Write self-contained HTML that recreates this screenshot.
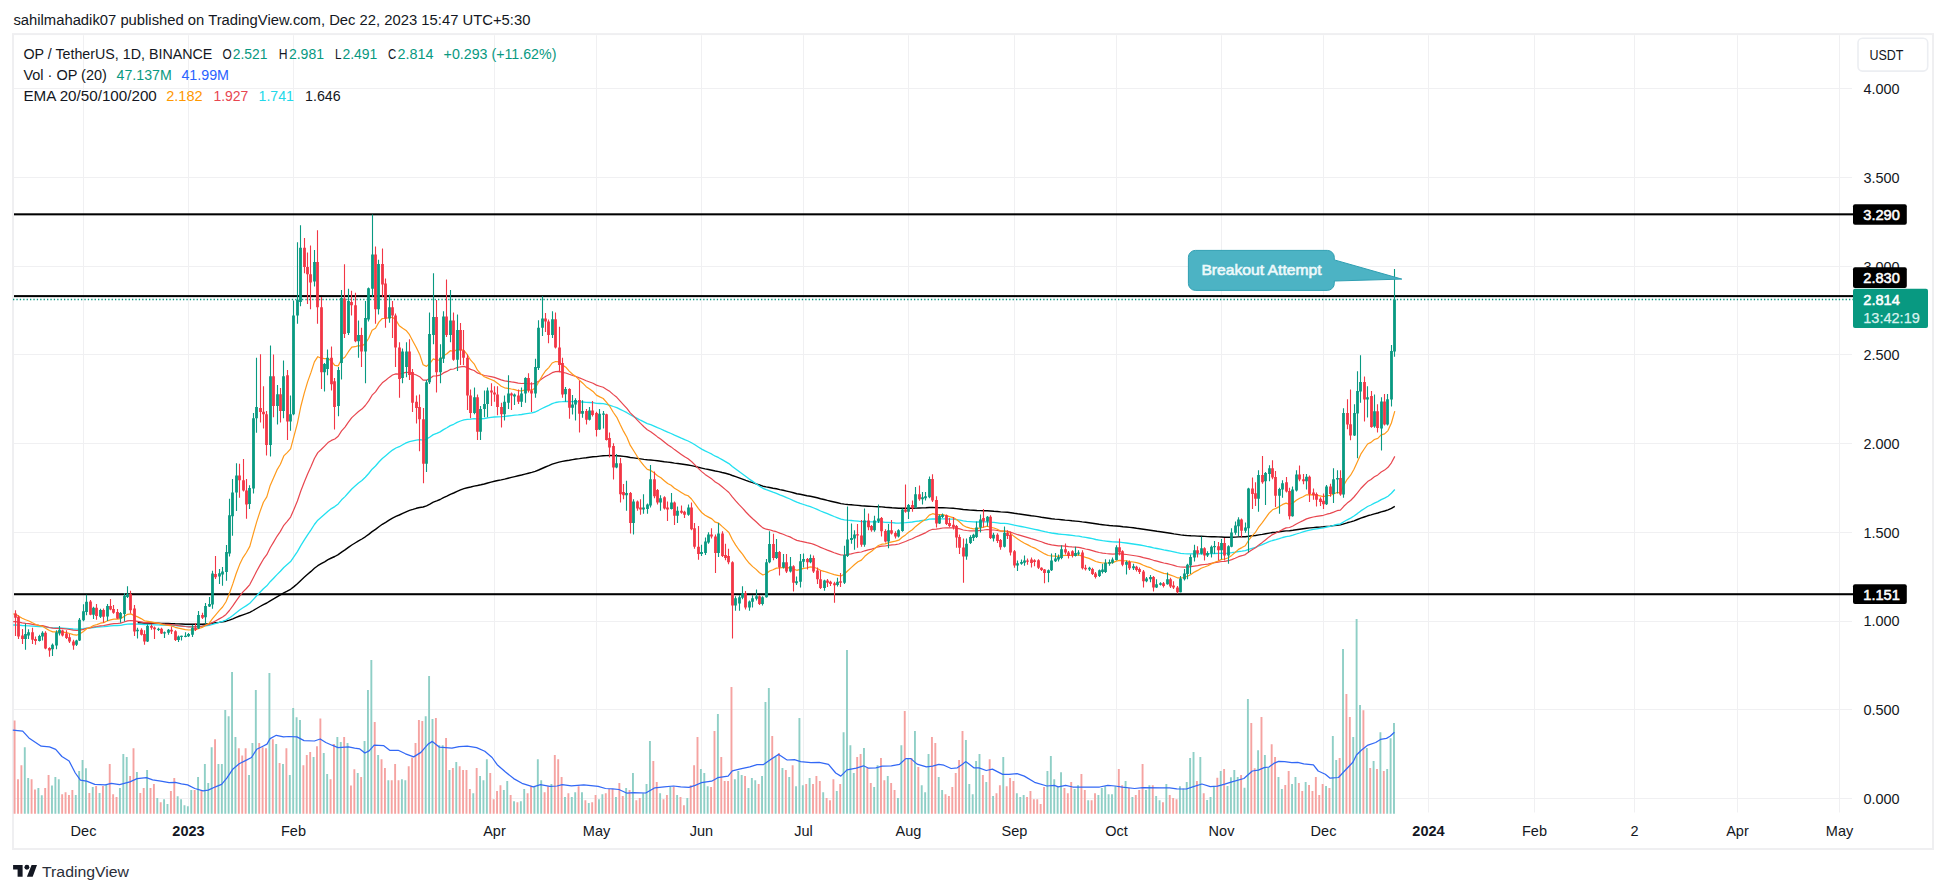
<!DOCTYPE html>
<html><head><meta charset="utf-8"><title>OP / TetherUS chart</title><style>html,body{margin:0;padding:0;background:#fff;overflow:hidden}svg{display:block}</style></head><body>
<svg width="1946" height="893" viewBox="0 0 1946 893" font-family='"Liberation Sans", sans-serif'>
<rect width="1946" height="893" fill="#ffffff"/>
<rect x="13" y="34.1" width="1920" height="814.9" fill="none" stroke="#efeff1" stroke-width="2"/>
<path d="M83.5 35.2V812.5 M188.5 35.2V812.5 M293.5 35.2V812.5 M494.5 35.2V812.5 M596.5 35.2V812.5 M701.5 35.2V812.5 M803.5 35.2V812.5 M908.5 35.2V812.5 M1014.5 35.2V812.5 M1116.5 35.2V812.5 M1221.5 35.2V812.5 M1323.5 35.2V812.5 M1428.5 35.2V812.5 M1534.5 35.2V812.5 M1634.5 35.2V812.5 M1737.5 35.2V812.5 M1839.5 35.2V812.5 M14 798.5H1852 M14 709.5H1852 M14 621.5H1852 M14 532.5H1852 M14 443.5H1852 M14 354.5H1852 M14 266.5H1852 M14 177.5H1852 M14 88.5H1852" stroke="#f0f0f2" stroke-width="1" fill="none"/>
<path d="M23.84 747.2h1.9V813.8h-1.9zM27.24 778.1h1.9V813.8h-1.9zM37.43 788.0h1.9V813.8h-1.9zM40.83 795.3h1.9V813.8h-1.9zM51.02 785.4h1.9V813.8h-1.9zM54.42 777.1h1.9V813.8h-1.9zM57.82 779.2h1.9V813.8h-1.9zM74.81 795.1h1.9V813.8h-1.9zM78.20 770.9h1.9V813.8h-1.9zM81.60 760.0h1.9V813.8h-1.9zM85.00 768.2h1.9V813.8h-1.9zM91.79 787.0h1.9V813.8h-1.9zM98.59 793.0h1.9V813.8h-1.9zM105.38 784.3h1.9V813.8h-1.9zM118.97 788.0h1.9V813.8h-1.9zM122.37 754.0h1.9V813.8h-1.9zM125.77 757.1h1.9V813.8h-1.9zM135.96 772.0h1.9V813.8h-1.9zM146.15 770.1h1.9V813.8h-1.9zM156.34 798.1h1.9V813.8h-1.9zM163.14 799.2h1.9V813.8h-1.9zM166.54 804.1h1.9V813.8h-1.9zM176.73 796.3h1.9V813.8h-1.9zM180.13 799.2h1.9V813.8h-1.9zM183.53 805.2h1.9V813.8h-1.9zM186.92 806.2h1.9V813.8h-1.9zM190.32 790.1h1.9V813.8h-1.9zM197.12 777.1h1.9V813.8h-1.9zM203.91 764.1h1.9V813.8h-1.9zM207.31 783.1h1.9V813.8h-1.9zM210.71 747.2h1.9V813.8h-1.9zM217.50 764.1h1.9V813.8h-1.9zM220.90 764.1h1.9V813.8h-1.9zM224.30 710.1h1.9V813.8h-1.9zM227.69 716.3h1.9V813.8h-1.9zM231.09 672.0h1.9V813.8h-1.9zM234.49 736.9h1.9V813.8h-1.9zM248.08 775.1h1.9V813.8h-1.9zM251.47 743.1h1.9V813.8h-1.9zM254.87 690.1h1.9V813.8h-1.9zM268.46 673.0h1.9V813.8h-1.9zM275.26 744.1h1.9V813.8h-1.9zM282.05 764.1h1.9V813.8h-1.9zM288.85 775.1h1.9V813.8h-1.9zM292.24 708.0h1.9V813.8h-1.9zM295.64 717.3h1.9V813.8h-1.9zM299.04 720.0h1.9V813.8h-1.9zM312.63 757.1h1.9V813.8h-1.9zM322.82 753.0h1.9V813.8h-1.9zM326.22 774.0h1.9V813.8h-1.9zM336.41 736.9h1.9V813.8h-1.9zM339.81 742.1h1.9V813.8h-1.9zM346.60 743.1h1.9V813.8h-1.9zM356.80 773.0h1.9V813.8h-1.9zM363.59 741.0h1.9V813.8h-1.9zM366.99 690.1h1.9V813.8h-1.9zM370.39 660.0h1.9V813.8h-1.9zM377.18 755.1h1.9V813.8h-1.9zM387.38 780.2h1.9V813.8h-1.9zM400.96 779.2h1.9V813.8h-1.9zM404.36 780.2h1.9V813.8h-1.9zM424.75 716.3h1.9V813.8h-1.9zM428.14 676.1h1.9V813.8h-1.9zM431.54 719.0h1.9V813.8h-1.9zM438.34 745.2h1.9V813.8h-1.9zM441.73 745.2h1.9V813.8h-1.9zM448.53 770.1h1.9V813.8h-1.9zM455.32 762.1h1.9V813.8h-1.9zM472.31 793.2h1.9V813.8h-1.9zM479.11 776.1h1.9V813.8h-1.9zM482.50 780.2h1.9V813.8h-1.9zM485.90 759.2h1.9V813.8h-1.9zM502.89 790.1h1.9V813.8h-1.9zM506.29 781.0h1.9V813.8h-1.9zM513.08 801.2h1.9V813.8h-1.9zM519.88 801.2h1.9V813.8h-1.9zM523.27 789.1h1.9V813.8h-1.9zM533.47 786.2h1.9V813.8h-1.9zM536.87 759.2h1.9V813.8h-1.9zM540.26 780.2h1.9V813.8h-1.9zM550.45 784.1h1.9V813.8h-1.9zM564.04 797.1h1.9V813.8h-1.9zM570.84 797.1h1.9V813.8h-1.9zM574.24 792.2h1.9V813.8h-1.9zM581.03 792.2h1.9V813.8h-1.9zM587.83 803.1h1.9V813.8h-1.9zM598.02 799.2h1.9V813.8h-1.9zM601.42 794.2h1.9V813.8h-1.9zM615.01 797.1h1.9V813.8h-1.9zM625.20 788.0h1.9V813.8h-1.9zM632.00 773.0h1.9V813.8h-1.9zM642.19 793.2h1.9V813.8h-1.9zM645.58 784.1h1.9V813.8h-1.9zM648.98 741.0h1.9V813.8h-1.9zM659.17 793.2h1.9V813.8h-1.9zM669.37 787.0h1.9V813.8h-1.9zM676.16 795.1h1.9V813.8h-1.9zM686.36 798.1h1.9V813.8h-1.9zM699.94 769.1h1.9V813.8h-1.9zM703.34 773.0h1.9V813.8h-1.9zM706.74 786.2h1.9V813.8h-1.9zM716.93 714.0h1.9V813.8h-1.9zM733.92 779.2h1.9V813.8h-1.9zM737.32 771.1h1.9V813.8h-1.9zM740.71 775.1h1.9V813.8h-1.9zM747.51 788.0h1.9V813.8h-1.9zM750.91 778.1h1.9V813.8h-1.9zM754.30 780.2h1.9V813.8h-1.9zM761.10 776.1h1.9V813.8h-1.9zM764.50 702.1h1.9V813.8h-1.9zM767.89 688.0h1.9V813.8h-1.9zM774.69 757.1h1.9V813.8h-1.9zM781.49 768.0h1.9V813.8h-1.9zM788.28 777.1h1.9V813.8h-1.9zM795.07 786.2h1.9V813.8h-1.9zM798.47 717.9h1.9V813.8h-1.9zM801.87 785.2h1.9V813.8h-1.9zM808.66 778.1h1.9V813.8h-1.9zM822.25 792.2h1.9V813.8h-1.9zM835.84 791.1h1.9V813.8h-1.9zM842.64 732.2h1.9V813.8h-1.9zM846.04 649.9h1.9V813.8h-1.9zM849.43 745.2h1.9V813.8h-1.9zM852.83 773.0h1.9V813.8h-1.9zM863.02 748.0h1.9V813.8h-1.9zM873.22 787.0h1.9V813.8h-1.9zM876.62 765.2h1.9V813.8h-1.9zM886.81 776.1h1.9V813.8h-1.9zM897.00 798.1h1.9V813.8h-1.9zM900.40 745.2h1.9V813.8h-1.9zM907.19 758.1h1.9V813.8h-1.9zM913.99 731.1h1.9V813.8h-1.9zM920.78 785.2h1.9V813.8h-1.9zM924.18 792.2h1.9V813.8h-1.9zM927.58 754.0h1.9V813.8h-1.9zM937.77 777.1h1.9V813.8h-1.9zM941.17 790.1h1.9V813.8h-1.9zM964.95 740.0h1.9V813.8h-1.9zM968.35 784.1h1.9V813.8h-1.9zM971.75 794.2h1.9V813.8h-1.9zM975.14 761.0h1.9V813.8h-1.9zM978.54 754.0h1.9V813.8h-1.9zM985.33 782.1h1.9V813.8h-1.9zM992.13 796.1h1.9V813.8h-1.9zM1002.32 757.1h1.9V813.8h-1.9zM1015.91 793.2h1.9V813.8h-1.9zM1019.31 797.1h1.9V813.8h-1.9zM1022.71 795.1h1.9V813.8h-1.9zM1046.49 771.1h1.9V813.8h-1.9zM1049.89 756.1h1.9V813.8h-1.9zM1053.29 779.2h1.9V813.8h-1.9zM1056.68 786.2h1.9V813.8h-1.9zM1060.08 772.2h1.9V813.8h-1.9zM1073.67 789.1h1.9V813.8h-1.9zM1077.07 785.2h1.9V813.8h-1.9zM1087.26 800.2h1.9V813.8h-1.9zM1097.45 795.1h1.9V813.8h-1.9zM1100.85 788.0h1.9V813.8h-1.9zM1104.25 786.2h1.9V813.8h-1.9zM1107.64 794.2h1.9V813.8h-1.9zM1111.04 794.2h1.9V813.8h-1.9zM1114.44 786.2h1.9V813.8h-1.9zM1124.63 781.0h1.9V813.8h-1.9zM1131.43 797.1h1.9V813.8h-1.9zM1145.02 790.1h1.9V813.8h-1.9zM1148.42 785.2h1.9V813.8h-1.9zM1155.21 796.1h1.9V813.8h-1.9zM1158.61 800.2h1.9V813.8h-1.9zM1165.40 784.1h1.9V813.8h-1.9zM1178.99 786.2h1.9V813.8h-1.9zM1182.39 788.5h1.9V813.8h-1.9zM1185.79 782.1h1.9V813.8h-1.9zM1189.19 758.1h1.9V813.8h-1.9zM1192.58 752.1h1.9V813.8h-1.9zM1199.38 756.9h1.9V813.8h-1.9zM1206.17 800.0h1.9V813.8h-1.9zM1209.57 796.9h1.9V813.8h-1.9zM1212.97 786.9h1.9V813.8h-1.9zM1219.76 771.0h1.9V813.8h-1.9zM1226.56 786.1h1.9V813.8h-1.9zM1229.96 777.3h1.9V813.8h-1.9zM1233.35 770.1h1.9V813.8h-1.9zM1236.75 777.0h1.9V813.8h-1.9zM1243.55 787.8h1.9V813.8h-1.9zM1246.94 699.1h1.9V813.8h-1.9zM1257.13 750.2h1.9V813.8h-1.9zM1263.93 755.0h1.9V813.8h-1.9zM1267.33 767.0h1.9V813.8h-1.9zM1277.52 777.0h1.9V813.8h-1.9zM1280.92 789.0h1.9V813.8h-1.9zM1291.11 784.0h1.9V813.8h-1.9zM1294.51 777.0h1.9V813.8h-1.9zM1304.70 782.1h1.9V813.8h-1.9zM1325.09 786.1h1.9V813.8h-1.9zM1331.88 736.0h1.9V813.8h-1.9zM1335.28 760.0h1.9V813.8h-1.9zM1342.07 649.1h1.9V813.8h-1.9zM1352.27 737.0h1.9V813.8h-1.9zM1355.66 619.1h1.9V813.8h-1.9zM1359.06 705.1h1.9V813.8h-1.9zM1365.86 748.0h1.9V813.8h-1.9zM1372.65 761.0h1.9V813.8h-1.9zM1379.45 732.2h1.9V813.8h-1.9zM1386.24 768.9h1.9V813.8h-1.9zM1389.64 738.2h1.9V813.8h-1.9zM1393.04 723.1h1.9V813.8h-1.9z" fill="#8fcfc6"/>
<path d="M13.65 720.4h1.9V813.8h-1.9zM17.05 779.2h1.9V813.8h-1.9zM20.45 765.2h1.9V813.8h-1.9zM30.64 779.2h1.9V813.8h-1.9zM34.03 789.5h1.9V813.8h-1.9zM44.23 788.0h1.9V813.8h-1.9zM47.62 775.1h1.9V813.8h-1.9zM61.21 794.2h1.9V813.8h-1.9zM64.61 792.2h1.9V813.8h-1.9zM68.01 795.1h1.9V813.8h-1.9zM71.41 790.1h1.9V813.8h-1.9zM88.40 793.0h1.9V813.8h-1.9zM95.19 786.0h1.9V813.8h-1.9zM101.98 786.0h1.9V813.8h-1.9zM108.78 764.1h1.9V813.8h-1.9zM112.18 794.2h1.9V813.8h-1.9zM115.58 797.1h1.9V813.8h-1.9zM129.16 776.1h1.9V813.8h-1.9zM132.56 748.2h1.9V813.8h-1.9zM139.36 793.0h1.9V813.8h-1.9zM142.75 788.0h1.9V813.8h-1.9zM149.55 788.0h1.9V813.8h-1.9zM152.95 783.9h1.9V813.8h-1.9zM159.74 802.3h1.9V813.8h-1.9zM169.94 791.1h1.9V813.8h-1.9zM173.33 778.1h1.9V813.8h-1.9zM193.72 790.1h1.9V813.8h-1.9zM200.51 790.1h1.9V813.8h-1.9zM214.10 739.2h1.9V813.8h-1.9zM237.88 748.2h1.9V813.8h-1.9zM241.28 755.5h1.9V813.8h-1.9zM244.68 748.2h1.9V813.8h-1.9zM258.27 743.1h1.9V813.8h-1.9zM261.67 747.2h1.9V813.8h-1.9zM265.06 748.2h1.9V813.8h-1.9zM271.86 739.2h1.9V813.8h-1.9zM278.65 763.1h1.9V813.8h-1.9zM285.45 748.2h1.9V813.8h-1.9zM302.44 765.2h1.9V813.8h-1.9zM305.83 755.1h1.9V813.8h-1.9zM309.23 752.0h1.9V813.8h-1.9zM316.03 746.2h1.9V813.8h-1.9zM319.42 718.4h1.9V813.8h-1.9zM329.62 779.2h1.9V813.8h-1.9zM333.01 744.1h1.9V813.8h-1.9zM343.21 736.9h1.9V813.8h-1.9zM350.00 785.4h1.9V813.8h-1.9zM353.40 769.3h1.9V813.8h-1.9zM360.19 777.1h1.9V813.8h-1.9zM373.78 722.1h1.9V813.8h-1.9zM380.58 759.2h1.9V813.8h-1.9zM383.98 768.0h1.9V813.8h-1.9zM390.77 780.2h1.9V813.8h-1.9zM394.17 764.1h1.9V813.8h-1.9zM397.57 780.2h1.9V813.8h-1.9zM407.76 766.2h1.9V813.8h-1.9zM411.16 757.5h1.9V813.8h-1.9zM414.55 743.1h1.9V813.8h-1.9zM417.95 720.0h1.9V813.8h-1.9zM421.35 721.0h1.9V813.8h-1.9zM434.94 717.9h1.9V813.8h-1.9zM445.13 738.1h1.9V813.8h-1.9zM451.93 768.0h1.9V813.8h-1.9zM458.72 766.2h1.9V813.8h-1.9zM462.12 770.1h1.9V813.8h-1.9zM465.52 770.1h1.9V813.8h-1.9zM468.91 789.1h1.9V813.8h-1.9zM475.71 768.0h1.9V813.8h-1.9zM489.30 773.0h1.9V813.8h-1.9zM492.70 799.2h1.9V813.8h-1.9zM496.09 791.1h1.9V813.8h-1.9zM499.49 785.2h1.9V813.8h-1.9zM509.68 795.1h1.9V813.8h-1.9zM516.48 802.3h1.9V813.8h-1.9zM526.67 793.2h1.9V813.8h-1.9zM530.07 786.2h1.9V813.8h-1.9zM543.66 792.2h1.9V813.8h-1.9zM547.06 786.2h1.9V813.8h-1.9zM553.85 755.1h1.9V813.8h-1.9zM557.25 759.2h1.9V813.8h-1.9zM560.65 777.1h1.9V813.8h-1.9zM567.44 793.2h1.9V813.8h-1.9zM577.63 786.2h1.9V813.8h-1.9zM584.43 800.2h1.9V813.8h-1.9zM591.23 802.3h1.9V813.8h-1.9zM594.62 795.1h1.9V813.8h-1.9zM604.81 793.2h1.9V813.8h-1.9zM608.21 789.1h1.9V813.8h-1.9zM611.61 789.1h1.9V813.8h-1.9zM618.40 783.1h1.9V813.8h-1.9zM621.80 796.1h1.9V813.8h-1.9zM628.60 790.1h1.9V813.8h-1.9zM635.39 800.2h1.9V813.8h-1.9zM638.79 798.1h1.9V813.8h-1.9zM652.38 761.0h1.9V813.8h-1.9zM655.78 782.1h1.9V813.8h-1.9zM662.57 799.2h1.9V813.8h-1.9zM665.97 795.1h1.9V813.8h-1.9zM672.76 787.0h1.9V813.8h-1.9zM679.56 797.1h1.9V813.8h-1.9zM682.96 805.2h1.9V813.8h-1.9zM689.75 785.2h1.9V813.8h-1.9zM693.15 765.2h1.9V813.8h-1.9zM696.55 737.1h1.9V813.8h-1.9zM710.14 787.0h1.9V813.8h-1.9zM713.53 731.1h1.9V813.8h-1.9zM720.33 757.1h1.9V813.8h-1.9zM723.73 781.0h1.9V813.8h-1.9zM727.12 781.0h1.9V813.8h-1.9zM730.52 687.0h1.9V813.8h-1.9zM744.11 776.1h1.9V813.8h-1.9zM757.70 784.1h1.9V813.8h-1.9zM771.29 736.1h1.9V813.8h-1.9zM778.09 753.0h1.9V813.8h-1.9zM784.88 770.1h1.9V813.8h-1.9zM791.68 765.2h1.9V813.8h-1.9zM805.27 784.1h1.9V813.8h-1.9zM812.06 784.1h1.9V813.8h-1.9zM815.46 776.1h1.9V813.8h-1.9zM818.86 781.0h1.9V813.8h-1.9zM825.65 798.1h1.9V813.8h-1.9zM829.05 800.2h1.9V813.8h-1.9zM832.45 779.2h1.9V813.8h-1.9zM839.24 784.1h1.9V813.8h-1.9zM856.23 757.1h1.9V813.8h-1.9zM859.63 754.0h1.9V813.8h-1.9zM866.42 768.0h1.9V813.8h-1.9zM869.82 783.1h1.9V813.8h-1.9zM880.01 758.1h1.9V813.8h-1.9zM883.41 780.2h1.9V813.8h-1.9zM890.20 783.1h1.9V813.8h-1.9zM893.60 790.1h1.9V813.8h-1.9zM903.79 711.1h1.9V813.8h-1.9zM910.59 758.1h1.9V813.8h-1.9zM917.38 767.0h1.9V813.8h-1.9zM930.98 737.1h1.9V813.8h-1.9zM934.37 743.1h1.9V813.8h-1.9zM944.56 794.2h1.9V813.8h-1.9zM947.96 796.1h1.9V813.8h-1.9zM951.36 787.0h1.9V813.8h-1.9zM954.76 773.0h1.9V813.8h-1.9zM958.15 760.0h1.9V813.8h-1.9zM961.55 731.1h1.9V813.8h-1.9zM981.94 775.1h1.9V813.8h-1.9zM988.73 759.2h1.9V813.8h-1.9zM995.53 793.2h1.9V813.8h-1.9zM998.92 785.2h1.9V813.8h-1.9zM1005.72 786.2h1.9V813.8h-1.9zM1009.12 778.1h1.9V813.8h-1.9zM1012.51 781.0h1.9V813.8h-1.9zM1026.11 797.1h1.9V813.8h-1.9zM1029.50 791.1h1.9V813.8h-1.9zM1032.90 799.2h1.9V813.8h-1.9zM1036.30 799.2h1.9V813.8h-1.9zM1039.70 804.1h1.9V813.8h-1.9zM1043.09 787.0h1.9V813.8h-1.9zM1063.48 788.0h1.9V813.8h-1.9zM1066.88 793.2h1.9V813.8h-1.9zM1070.27 782.1h1.9V813.8h-1.9zM1080.47 774.0h1.9V813.8h-1.9zM1083.86 790.1h1.9V813.8h-1.9zM1090.66 800.2h1.9V813.8h-1.9zM1094.06 793.2h1.9V813.8h-1.9zM1117.84 769.1h1.9V813.8h-1.9zM1121.24 785.2h1.9V813.8h-1.9zM1128.03 788.0h1.9V813.8h-1.9zM1134.83 795.1h1.9V813.8h-1.9zM1138.22 790.1h1.9V813.8h-1.9zM1141.62 764.1h1.9V813.8h-1.9zM1151.81 785.2h1.9V813.8h-1.9zM1162.01 802.3h1.9V813.8h-1.9zM1168.80 795.1h1.9V813.8h-1.9zM1172.20 798.1h1.9V813.8h-1.9zM1175.60 799.2h1.9V813.8h-1.9zM1195.98 781.1h1.9V813.8h-1.9zM1202.78 793.3h1.9V813.8h-1.9zM1216.37 777.7h1.9V813.8h-1.9zM1223.16 768.9h1.9V813.8h-1.9zM1240.15 774.9h1.9V813.8h-1.9zM1250.34 723.1h1.9V813.8h-1.9zM1253.74 768.2h1.9V813.8h-1.9zM1260.53 717.1h1.9V813.8h-1.9zM1270.73 744.2h1.9V813.8h-1.9zM1274.12 756.9h1.9V813.8h-1.9zM1284.32 784.9h1.9V813.8h-1.9zM1287.71 771.0h1.9V813.8h-1.9zM1297.90 783.0h1.9V813.8h-1.9zM1301.30 790.9h1.9V813.8h-1.9zM1308.10 784.9h1.9V813.8h-1.9zM1311.50 790.9h1.9V813.8h-1.9zM1314.89 777.0h1.9V813.8h-1.9zM1318.29 795.0h1.9V813.8h-1.9zM1321.69 784.0h1.9V813.8h-1.9zM1328.48 788.0h1.9V813.8h-1.9zM1338.68 758.1h1.9V813.8h-1.9zM1345.47 694.1h1.9V813.8h-1.9zM1348.87 717.1h1.9V813.8h-1.9zM1362.46 710.2h1.9V813.8h-1.9zM1369.25 767.9h1.9V813.8h-1.9zM1376.05 768.9h1.9V813.8h-1.9zM1382.84 771.0h1.9V813.8h-1.9z" fill="#f5a3a1"/>
<polyline fill="none" stroke="#3268f5" stroke-width="1.25" stroke-linejoin="round" points="12.8,730.1 22.7,731.1 28.9,737.9 41.2,746.2 49.5,746.8 55.7,749.3 61.9,756.5 69.1,761.0 75.3,773.0 80.4,780.2 86.6,781.2 94.8,784.3 105.2,784.9 111.3,783.3 119.6,784.7 129.9,781.9 137.1,778.6 146.4,777.7 152.6,779.8 160.8,781.2 169.1,782.7 175.3,782.3 181.4,783.9 187.6,784.9 194.8,788.5 203.1,790.9 208.2,790.1 215.5,786.8 221.6,784.3 226.8,778.1 233.0,768.9 239.2,763.7 245.4,760.6 251.5,757.5 256.7,749.3 262.9,746.2 267.0,744.1 270.1,738.6 276.3,735.3 283.5,736.9 288.7,736.5 296.9,736.9 304.1,740.6 314.4,741.0 320.2,739.0 325.8,742.5 332.0,745.2 338.1,747.6 348.5,746.8 354.6,748.2 359.8,748.9 364.9,753.0 369.1,750.9 374.2,745.2 383.5,745.6 389.7,750.3 398.2,750.3 405.5,753.8 413.7,756.9 420.9,752.4 428.1,744.1 432.3,741.4 439.5,747.2 445.7,747.6 451.9,748.2 459.1,746.6 467.3,746.2 476.6,747.6 484.8,751.3 492.1,757.5 497.2,764.7 505.5,772.0 513.7,778.6 522.0,783.3 533.3,786.8 540.5,784.7 549.8,786.4 557.0,786.0 562.2,784.7 571.4,785.8 583.8,784.9 598.2,786.4 605.5,788.5 612.7,788.9 618.9,789.5 627.1,793.2 633.3,792.6 645.7,793.0 654.9,787.8 664.2,786.8 673.5,786.0 680.7,786.8 689.0,787.4 695.2,785.4 701.3,782.7 711.6,781.2 717.8,777.7 728.1,776.1 732.3,770.9 740.5,768.9 749.8,766.8 757.0,764.7 763.2,764.7 771.4,759.0 778.7,754.4 785.9,759.2 787.2,760.0 794.4,759.6 800.6,761.6 810.9,762.7 819.2,762.3 828.5,764.3 835.7,773.0 840.8,776.1 847.0,769.9 856.3,768.2 863.5,765.8 868.7,768.2 875.9,767.8 882.1,766.2 891.3,765.8 899.6,764.3 905.8,758.6 910.9,758.6 917.1,764.1 926.4,766.8 932.6,766.2 938.8,764.3 943.9,765.2 951.1,768.5 957.3,767.8 962.5,764.3 965.6,761.6 968.7,763.7 973.8,767.8 979.0,767.8 986.2,770.5 992.4,769.1 1002.7,774.4 1008.9,774.4 1017.1,773.6 1024.3,776.1 1034.6,782.3 1047.0,786.0 1054.2,785.4 1058.4,786.8 1065.6,785.4 1072.8,787.0 1085.2,787.0 1099.6,787.0 1107.8,785.4 1115.1,786.0 1122.3,787.2 1134.6,788.5 1142.9,787.6 1161.4,787.8 1169.6,787.8 1176.8,788.8 1186.4,789.0 1193.5,786.6 1201.9,784.0 1210.3,786.6 1217.5,786.1 1224.7,784.2 1231.9,781.8 1243.9,778.5 1252.3,771.0 1258.3,770.1 1264.2,767.7 1269.0,767.0 1273.8,763.4 1278.6,761.4 1284.6,761.7 1291.8,762.6 1297.8,762.4 1303.8,763.8 1313.4,764.8 1318.2,771.0 1325.3,774.2 1330.1,778.2 1338.5,777.5 1344.5,771.0 1352.9,762.2 1356.5,755.0 1361.3,750.2 1367.3,745.4 1375.7,742.5 1380.5,739.4 1386.5,738.4 1390.1,736.3 1394.4,732.2"/>
<rect x="14" y="213.3" width="1839" height="2.05" fill="#000"/>
<rect x="14" y="295.1" width="1839" height="2.05" fill="#000"/>
<rect x="14" y="593.2" width="1839" height="2.05" fill="#000"/>
<line x1="13" y1="299.5" x2="1853" y2="299.5" stroke="#089981" stroke-width="1.4" stroke-dasharray="1.3 2.1"/>
<polyline fill="none" stroke="#000000" stroke-width="1.4" stroke-linejoin="round" points="137.7,622.8 141.1,622.9 144.5,623.1 147.9,623.1 151.3,623.2 154.7,623.2 158.1,623.3 161.5,623.4 164.9,623.5 168.3,623.5 171.7,623.6 175.1,623.8 178.5,623.9 181.9,624.0 185.3,624.2 188.7,624.3 192.1,624.3 195.5,624.3 198.9,624.3 202.3,624.2 205.7,624.0 209.1,623.8 212.5,623.3 215.9,622.8 219.2,622.4 222.6,621.8 226.0,621.2 229.4,620.1 232.8,618.8 236.2,617.4 239.6,616.0 243.0,614.8 246.4,613.7 249.8,612.4 253.2,610.5 256.6,608.5 260.0,606.5 263.4,604.6 266.8,603.0 270.2,600.8 273.6,598.8 277.0,596.8 280.4,594.9 283.8,592.8 287.2,591.1 290.6,589.3 294.0,586.6 297.4,583.7 300.8,580.4 304.2,577.3 307.6,574.3 311.0,571.4 314.4,568.3 317.8,565.7 321.2,563.7 324.6,561.8 328.0,559.7 331.4,558.0 334.8,556.5 338.2,554.6 341.6,552.1 345.0,549.9 348.4,547.4 351.8,545.0 355.1,543.0 358.5,540.9 361.9,539.0 365.3,536.8 368.7,534.4 372.1,531.6 375.5,529.4 378.9,526.7 382.3,524.3 385.7,522.3 389.1,520.1 392.5,518.1 395.9,516.4 399.3,515.0 402.7,513.4 406.1,511.8 409.5,510.4 412.9,509.4 416.3,508.3 419.7,507.5 423.1,507.0 426.5,505.8 429.9,504.1 433.3,502.2 436.7,500.9 440.1,499.5 443.5,497.7 446.9,496.1 450.3,494.3 453.7,493.0 457.1,491.4 460.5,489.9 463.9,488.6 467.3,487.7 470.7,487.0 474.1,486.1 477.5,485.5 480.9,484.8 484.3,484.0 487.7,483.0 491.0,482.1 494.4,481.3 497.8,480.5 501.2,479.9 504.6,479.1 508.0,478.2 511.4,477.4 514.8,476.6 518.2,475.8 521.6,475.0 525.0,474.1 528.4,473.2 531.8,472.4 535.2,471.4 538.6,470.0 542.0,468.5 545.4,467.0 548.8,465.7 552.2,464.2 555.6,463.1 559.0,462.1 562.4,461.4 565.8,460.7 569.2,460.2 572.6,459.6 576.0,459.0 579.4,458.6 582.8,458.1 586.2,457.7 589.6,457.2 593.0,456.8 596.4,456.6 599.8,456.1 603.2,455.7 606.6,455.6 610.0,455.5 613.4,455.6 616.8,455.7 620.2,456.0 623.6,456.4 626.9,456.8 630.3,457.5 633.7,457.9 637.1,458.4 640.5,458.9 643.9,459.4 647.3,459.8 650.7,460.0 654.1,460.4 657.5,460.8 660.9,461.2 664.3,461.7 667.7,462.1 671.1,462.5 674.5,463.1 677.9,463.5 681.3,464.0 684.7,464.5 688.1,465.0 691.5,465.6 694.9,466.4 698.3,467.3 701.7,468.1 705.1,468.9 708.5,469.5 711.9,470.2 715.3,471.0 718.7,471.6 722.1,472.5 725.5,473.3 728.9,474.2 732.3,475.5 735.7,476.7 739.1,477.9 742.5,479.1 745.9,480.4 749.3,481.6 752.7,482.7 756.1,483.8 759.5,485.0 762.9,486.2 766.2,486.9 769.6,487.5 773.0,488.2 776.4,488.8 779.8,489.6 783.2,490.3 786.6,491.1 790.0,491.9 793.4,492.8 796.8,493.7 800.2,494.3 803.6,495.0 807.0,495.7 810.4,496.3 813.8,497.0 817.2,497.8 820.6,498.7 824.0,499.5 827.4,500.4 830.8,501.2 834.2,502.0 837.6,502.8 841.0,503.6 844.4,504.1 847.8,504.5 851.2,504.8 854.6,505.1 858.0,505.4 861.4,505.8 864.8,506.0 868.2,506.2 871.6,506.4 875.0,506.6 878.4,506.7 881.8,506.9 885.2,507.3 888.6,507.5 892.0,507.8 895.4,508.0 898.8,508.3 902.1,508.3 905.5,508.3 908.9,508.3 912.3,508.3 915.7,508.1 919.1,508.0 922.5,507.9 925.9,507.8 929.3,507.5 932.7,507.5 936.1,507.6 939.5,507.7 942.9,507.8 946.3,507.9 949.7,508.1 953.1,508.3 956.5,508.6 959.9,509.0 963.3,509.5 966.7,509.8 970.1,510.1 973.5,510.3 976.9,510.5 980.3,510.6 983.7,510.7 987.1,510.7 990.5,511.0 993.9,511.3 997.3,511.5 1000.7,511.9 1004.1,512.1 1007.5,512.3 1010.9,512.7 1014.3,513.3 1017.7,513.8 1021.1,514.2 1024.5,514.7 1027.9,515.2 1031.3,515.7 1034.7,516.1 1038.0,516.6 1041.4,517.2 1044.8,517.7 1048.2,518.2 1051.6,518.7 1055.0,519.1 1058.4,519.4 1061.8,519.7 1065.2,520.1 1068.6,520.4 1072.0,520.8 1075.4,521.1 1078.8,521.4 1082.2,521.9 1085.6,522.3 1089.0,522.8 1092.4,523.3 1095.8,523.8 1099.2,524.3 1102.6,524.7 1106.0,525.1 1109.4,525.5 1112.8,525.8 1116.2,526.0 1119.6,526.3 1123.0,526.7 1126.4,527.0 1129.8,527.4 1133.2,527.8 1136.6,528.3 1140.0,528.7 1143.4,529.2 1146.8,529.7 1150.2,530.2 1153.6,530.7 1157.0,531.3 1160.4,531.8 1163.8,532.3 1167.2,532.8 1170.6,533.3 1173.9,533.9 1177.3,534.4 1180.7,534.9 1184.1,535.3 1187.5,535.6 1190.9,535.8 1194.3,535.9 1197.7,536.1 1201.1,536.2 1204.5,536.4 1207.9,536.6 1211.3,536.7 1214.7,536.8 1218.1,536.9 1221.5,537.0 1224.9,537.2 1228.3,537.2 1231.7,537.2 1235.1,537.1 1238.5,536.9 1241.9,536.8 1245.3,536.7 1248.7,536.3 1252.1,535.8 1255.5,535.5 1258.9,534.9 1262.3,534.4 1265.7,533.7 1269.1,533.1 1272.5,532.5 1275.9,532.2 1279.3,531.7 1282.7,531.3 1286.1,530.9 1289.5,530.7 1292.9,530.3 1296.3,529.8 1299.7,529.3 1303.1,528.8 1306.5,528.3 1309.8,527.9 1313.2,527.6 1316.6,527.3 1320.0,527.1 1323.4,526.8 1326.8,526.4 1330.2,526.1 1333.6,525.6 1337.0,525.2 1340.4,524.9 1343.8,523.8 1347.2,522.8 1350.6,521.9 1354.0,520.8 1357.4,519.5 1360.8,518.2 1364.2,517.0 1367.6,515.8 1371.0,514.9 1374.4,513.9 1377.8,513.0 1381.2,511.9 1384.6,511.0 1388.0,509.9 1391.4,508.3 1394.8,506.3"/>
<polyline fill="none" stroke="#22e0f0" stroke-width="1.3" stroke-linejoin="round" points="13.2,625.0 15.4,625.0 18.8,625.2 22.2,625.5 25.6,625.7 29.0,625.8 32.4,626.1 35.8,626.4 39.2,626.6 42.6,626.7 46.0,627.1 49.4,627.6 52.8,627.9 56.2,628.0 59.6,628.0 63.0,628.2 66.4,628.4 69.8,628.6 73.2,629.0 76.6,629.2 80.0,629.0 83.4,628.7 86.7,628.1 90.1,627.9 93.5,627.5 96.9,627.2 100.3,626.9 103.7,626.7 107.1,626.3 110.5,625.9 113.9,625.7 117.3,625.5 120.7,625.3 124.1,624.7 127.5,624.1 130.9,623.8 134.3,624.0 137.7,624.1 141.1,624.3 144.5,624.6 147.9,624.7 151.3,624.7 154.7,624.8 158.1,624.9 161.5,625.1 164.9,625.2 168.3,625.3 171.7,625.4 175.1,625.7 178.5,625.9 181.9,626.1 185.3,626.3 188.7,626.5 192.1,626.5 195.5,626.6 198.9,626.3 202.3,626.2 205.7,625.8 209.1,625.3 212.5,624.3 215.9,623.4 219.2,622.4 222.6,621.4 226.0,620.0 229.4,617.9 232.8,615.4 236.2,612.7 239.6,610.0 243.0,607.7 246.4,605.6 249.8,603.3 253.2,599.6 256.6,595.8 260.0,592.2 263.4,588.7 266.8,585.8 270.2,581.7 273.6,578.2 277.0,574.6 280.4,571.3 283.8,567.5 287.2,564.6 290.6,561.6 294.0,556.7 297.4,551.6 300.8,545.6 304.2,540.1 307.6,534.8 311.0,529.8 314.4,524.5 317.8,520.2 321.2,517.3 324.6,514.3 328.0,511.2 331.4,508.6 334.8,506.6 338.2,503.9 341.6,499.8 345.0,496.6 348.4,492.7 351.8,489.0 355.1,486.1 358.5,483.1 361.9,480.5 365.3,477.2 368.7,473.5 372.1,469.2 375.5,466.0 378.9,462.0 382.3,458.5 385.7,455.7 389.1,452.8 392.5,450.1 395.9,448.0 399.3,446.7 402.7,444.8 406.1,442.9 409.5,441.6 412.9,440.8 416.3,440.2 419.7,439.7 423.1,440.2 426.5,439.1 429.9,437.0 433.3,434.6 436.7,433.4 440.1,431.9 443.5,429.6 446.9,427.7 450.3,425.6 453.7,424.3 457.1,422.4 460.5,421.0 463.9,419.8 467.3,419.3 470.7,419.2 474.1,418.7 477.5,419.0 480.9,418.8 484.3,418.5 487.7,417.9 491.0,417.4 494.4,417.0 497.8,416.8 501.2,416.7 504.6,416.4 508.0,416.0 511.4,415.6 514.8,415.2 518.2,414.9 521.6,414.5 525.0,413.8 528.4,413.3 531.8,412.9 535.2,412.0 538.6,410.3 542.0,408.5 545.4,406.8 548.8,405.4 552.2,403.7 555.6,402.5 559.0,401.8 562.4,401.7 565.8,401.4 569.2,401.5 572.6,401.6 576.0,401.6 579.4,401.8 582.8,402.0 586.2,402.3 589.6,402.5 593.0,402.7 596.4,403.3 599.8,403.5 603.2,403.7 606.6,404.4 610.0,405.3 613.4,406.5 616.8,407.6 620.2,409.3 623.6,411.0 626.9,412.7 630.3,414.8 633.7,416.6 637.1,418.4 640.5,420.2 643.9,421.9 647.3,423.6 650.7,424.7 654.1,426.1 657.5,427.6 660.9,429.0 664.3,430.6 667.7,432.1 671.1,433.5 674.5,435.2 677.9,436.6 681.3,438.2 684.7,439.7 688.1,441.0 691.5,442.8 694.9,444.8 698.3,447.0 701.7,449.1 705.1,450.9 708.5,452.5 711.9,454.2 715.3,456.2 718.7,457.7 722.1,459.6 725.5,461.6 728.9,463.6 732.3,466.4 735.7,469.0 739.1,471.5 742.5,474.0 745.9,476.6 749.3,479.1 752.7,481.4 756.1,483.7 759.5,486.1 762.9,488.3 766.2,489.7 769.6,490.8 773.0,492.2 776.4,493.3 779.8,494.8 783.2,496.1 786.6,497.6 790.0,499.0 793.4,500.7 796.8,502.2 800.2,503.4 803.6,504.5 807.0,505.7 810.4,506.7 813.8,508.0 817.2,509.4 820.6,511.0 824.0,512.3 827.4,513.7 830.8,515.1 834.2,516.5 837.6,517.8 841.0,519.1 844.4,519.8 847.8,520.2 851.2,520.5 854.6,520.8 858.0,521.1 861.4,521.6 864.8,521.5 868.2,521.7 871.6,521.8 875.0,521.8 878.4,521.7 881.8,521.9 885.2,522.3 888.6,522.5 892.0,522.7 895.4,523.0 898.8,523.1 902.1,522.8 905.5,522.6 908.9,522.3 912.3,522.0 915.7,521.4 919.1,521.0 922.5,520.5 925.9,520.1 929.3,519.2 932.7,518.9 936.1,519.0 939.5,518.9 942.9,518.8 946.3,518.9 949.7,519.1 953.1,519.2 956.5,519.6 959.9,520.1 963.3,520.9 966.7,521.3 970.1,521.6 973.5,521.9 976.9,522.0 980.3,521.9 983.7,521.9 987.1,521.8 990.5,522.2 993.9,522.4 997.3,522.8 1000.7,523.3 1004.1,523.4 1007.5,523.7 1010.9,524.3 1014.3,525.1 1017.7,525.8 1021.1,526.5 1024.5,527.2 1027.9,527.9 1031.3,528.6 1034.7,529.3 1038.0,530.0 1041.4,530.8 1044.8,531.7 1048.2,532.4 1051.6,533.0 1055.0,533.5 1058.4,534.0 1061.8,534.3 1065.2,534.6 1068.6,535.0 1072.0,535.4 1075.4,535.8 1078.8,536.1 1082.2,536.8 1085.6,537.4 1089.0,538.0 1092.4,538.7 1095.8,539.5 1099.2,540.1 1102.6,540.7 1106.0,541.1 1109.4,541.5 1112.8,541.9 1116.2,542.0 1119.6,542.2 1123.0,542.6 1126.4,543.0 1129.8,543.5 1133.2,544.0 1136.6,544.5 1140.0,545.0 1143.4,545.7 1146.8,546.4 1150.2,547.0 1153.6,547.8 1157.0,548.5 1160.4,549.2 1163.8,549.9 1167.2,550.5 1170.6,551.2 1173.9,551.9 1177.3,552.7 1180.7,553.3 1184.1,553.7 1187.5,553.9 1190.9,553.9 1194.3,553.9 1197.7,553.9 1201.1,553.7 1204.5,553.8 1207.9,553.8 1211.3,553.6 1214.7,553.5 1218.1,553.4 1221.5,553.2 1224.9,553.3 1228.3,553.1 1231.7,552.7 1235.1,552.2 1238.5,551.5 1241.9,551.1 1245.3,550.6 1248.7,549.4 1252.1,548.3 1255.5,547.3 1258.9,545.9 1262.3,544.6 1265.7,543.2 1269.1,541.7 1272.5,540.5 1275.9,539.6 1279.3,538.6 1282.7,537.5 1286.1,536.6 1289.5,536.2 1292.9,535.2 1296.3,534.0 1299.7,533.0 1303.1,531.9 1306.5,530.9 1309.8,530.1 1313.2,529.4 1316.6,528.8 1320.0,528.3 1323.4,527.8 1326.8,527.0 1330.2,526.4 1333.6,525.4 1337.0,524.5 1340.4,523.9 1343.8,521.7 1347.2,519.8 1350.6,518.1 1354.0,516.0 1357.4,513.6 1360.8,510.9 1364.2,508.7 1367.6,506.5 1371.0,505.0 1374.4,503.1 1377.8,501.6 1381.2,499.6 1384.6,498.1 1388.0,496.2 1391.4,493.3 1394.8,489.5"/>
<polyline fill="none" stroke="#e8464f" stroke-width="1.2" stroke-linejoin="round" points="13.2,621.6 15.4,621.6 18.8,622.2 22.2,622.9 25.6,623.3 29.0,623.6 32.4,624.3 35.8,624.9 39.2,625.4 42.6,625.7 46.0,626.6 49.4,627.5 52.8,628.2 56.2,628.3 59.6,628.4 63.0,628.7 66.4,629.0 69.8,629.5 73.2,630.1 76.6,630.5 80.0,630.1 83.4,629.4 86.7,628.3 90.1,627.8 93.5,627.0 96.9,626.5 100.3,625.9 103.7,625.5 107.1,624.8 110.5,624.2 113.9,623.7 117.3,623.5 120.7,623.1 124.1,622.0 127.5,620.9 130.9,620.5 134.3,620.9 137.7,621.3 141.1,621.8 144.5,622.6 147.9,622.7 151.3,622.9 154.7,623.2 158.1,623.4 161.5,623.8 164.9,624.1 168.3,624.3 171.7,624.6 175.1,625.2 178.5,625.7 181.9,626.1 185.3,626.5 188.7,626.8 192.1,626.8 195.5,626.9 198.9,626.4 202.3,626.1 205.7,625.3 209.1,624.5 212.5,622.5 215.9,620.7 219.2,618.9 222.6,617.0 226.0,614.4 229.4,610.5 232.8,605.9 236.2,600.8 239.6,596.1 243.0,591.9 246.4,588.5 249.8,584.6 253.2,578.0 256.6,571.3 260.0,565.1 263.4,559.2 266.8,554.7 270.2,547.7 273.6,542.1 277.0,536.3 280.4,531.4 283.8,525.3 287.2,521.3 290.6,517.1 294.0,509.2 297.4,501.0 300.8,491.0 304.2,482.2 307.6,474.1 311.0,466.6 314.4,458.5 317.8,452.6 321.2,449.5 324.6,446.1 328.0,442.6 331.4,440.4 334.8,439.0 338.2,436.3 341.6,430.9 345.0,427.1 348.4,422.2 351.8,417.6 355.1,414.6 358.5,411.5 361.9,409.1 365.3,405.5 368.7,400.9 372.1,395.2 375.5,391.8 378.9,386.8 382.3,382.8 385.7,380.3 389.1,377.4 392.5,375.0 395.9,373.9 399.3,374.1 402.7,373.2 406.1,372.4 409.5,372.5 412.9,373.7 416.3,375.0 419.7,376.7 423.1,380.2 426.5,380.2 429.9,378.4 433.3,376.0 436.7,375.9 440.1,375.2 443.5,372.9 446.9,371.4 450.3,369.4 453.7,369.0 457.1,367.5 460.5,366.8 463.9,366.4 467.3,367.6 470.7,369.4 474.1,370.5 477.5,372.9 480.9,374.3 484.3,375.5 487.7,376.0 491.0,376.7 494.4,377.4 497.8,378.6 501.2,379.9 504.6,380.8 508.0,381.3 511.4,381.9 514.8,382.4 518.2,383.1 521.6,383.5 525.0,383.3 528.4,383.6 531.8,384.0 535.2,383.3 538.6,381.2 542.0,378.7 545.4,376.5 548.8,374.8 552.2,372.7 555.6,371.7 559.0,371.4 562.4,372.3 565.8,373.0 569.2,374.3 572.6,375.5 576.0,376.5 579.4,377.9 582.8,379.2 586.2,380.8 589.6,382.0 593.0,383.3 596.4,385.1 599.8,386.2 603.2,387.3 606.6,389.4 610.0,391.6 613.4,394.6 616.8,397.3 620.2,401.1 623.6,404.8 626.9,408.3 630.3,412.8 633.7,416.2 637.1,419.9 640.5,423.4 643.9,426.7 647.3,429.7 650.7,431.7 654.1,434.2 657.5,436.9 660.9,439.3 664.3,442.0 667.7,444.7 671.1,446.9 674.5,449.6 677.9,452.0 681.3,454.4 684.7,456.8 688.1,458.8 691.5,461.5 694.9,464.9 698.3,468.4 701.7,471.6 705.1,474.4 708.5,476.7 711.9,479.1 715.3,482.0 718.7,484.0 722.1,486.8 725.5,489.6 728.9,492.5 732.3,496.9 735.7,500.9 739.1,504.7 742.5,508.1 745.9,512.0 749.3,515.5 752.7,518.8 756.1,521.8 759.5,525.0 762.9,527.9 766.2,529.2 769.6,529.8 773.0,530.9 776.4,531.7 779.8,533.1 783.2,534.3 786.6,535.7 790.0,536.9 793.4,538.7 796.8,540.4 800.2,541.2 803.6,541.9 807.0,542.7 810.4,543.3 813.8,544.4 817.2,545.8 820.6,547.4 824.0,548.7 827.4,550.1 830.8,551.4 834.2,552.7 837.6,553.9 841.0,555.0 844.4,555.0 847.8,554.4 851.2,553.8 854.6,553.0 858.0,552.3 861.4,552.0 864.8,550.8 868.2,549.8 871.6,549.1 875.0,548.0 878.4,546.8 881.8,546.2 885.2,546.0 888.6,545.4 892.0,544.9 895.4,544.6 898.8,544.0 902.1,542.7 905.5,541.5 908.9,540.0 912.3,538.8 915.7,537.0 919.1,535.6 922.5,534.1 925.9,532.6 929.3,530.5 932.7,529.3 936.1,529.1 939.5,528.6 942.9,528.0 946.3,527.9 949.7,527.8 953.1,527.8 956.5,528.1 959.9,528.9 963.3,530.0 966.7,530.5 970.1,530.8 973.5,530.9 976.9,530.8 980.3,530.4 983.7,530.0 987.1,529.5 990.5,529.8 993.9,530.0 997.3,530.5 1000.7,531.1 1004.1,531.2 1007.5,531.4 1010.9,532.2 1014.3,533.5 1017.7,534.7 1021.1,535.7 1024.5,536.7 1027.9,537.7 1031.3,538.7 1034.7,539.6 1038.0,540.7 1041.4,541.8 1044.8,543.1 1048.2,544.1 1051.6,544.8 1055.0,545.3 1058.4,545.8 1061.8,545.9 1065.2,546.2 1068.6,546.6 1072.0,546.9 1075.4,547.1 1078.8,547.3 1082.2,548.2 1085.6,549.0 1089.0,549.7 1092.4,550.7 1095.8,551.7 1099.2,552.5 1102.6,553.1 1106.0,553.5 1109.4,553.8 1112.8,554.1 1116.2,553.8 1119.6,553.7 1123.0,554.2 1126.4,554.5 1129.8,555.0 1133.2,555.5 1136.6,556.0 1140.0,556.6 1143.4,557.6 1146.8,558.4 1150.2,559.2 1153.6,560.3 1157.0,561.2 1160.4,562.1 1163.8,563.0 1167.2,563.7 1170.6,564.5 1173.9,565.4 1177.3,566.5 1180.7,567.0 1184.1,567.2 1187.5,567.1 1190.9,566.7 1194.3,566.1 1197.7,565.6 1201.1,564.9 1204.5,564.5 1207.9,564.1 1211.3,563.4 1214.7,562.7 1218.1,562.2 1221.5,561.5 1224.9,561.3 1228.3,560.7 1231.7,559.6 1235.1,558.2 1238.5,556.7 1241.9,555.7 1245.3,554.6 1248.7,552.0 1252.1,549.7 1255.5,547.7 1258.9,544.9 1262.3,542.4 1265.7,539.7 1269.1,536.9 1272.5,534.6 1275.9,533.0 1279.3,531.3 1282.7,529.4 1286.1,527.9 1289.5,527.5 1292.9,526.0 1296.3,524.0 1299.7,522.2 1303.1,520.6 1306.5,518.9 1309.8,517.9 1313.2,517.0 1316.6,516.4 1320.0,515.8 1323.4,515.3 1326.8,514.2 1330.2,513.4 1333.6,512.1 1337.0,510.7 1340.4,510.1 1343.8,506.3 1347.2,503.1 1350.6,500.5 1354.0,497.0 1357.4,492.9 1360.8,488.5 1364.2,485.0 1367.6,481.6 1371.0,479.4 1374.4,476.8 1377.8,474.9 1381.2,472.0 1384.6,470.1 1388.0,467.3 1391.4,462.8 1394.8,456.4"/>
<polyline fill="none" stroke="#ff9a1a" stroke-width="1.2" stroke-linejoin="round" points="13.2,614.0 15.4,614.0 18.8,616.2 22.2,618.3 25.6,619.8 29.0,621.0 32.4,622.8 35.8,624.5 39.2,625.6 42.6,626.3 46.0,628.4 49.4,630.5 52.8,631.9 56.2,631.9 59.6,631.7 63.0,632.1 66.4,632.6 69.8,633.5 73.2,634.6 76.6,635.2 80.0,633.7 83.4,631.5 86.7,628.7 90.1,627.4 93.5,625.5 96.9,624.6 100.3,623.2 103.7,622.6 107.1,621.0 110.5,619.9 113.9,619.2 117.3,619.1 120.7,618.6 124.1,616.4 127.5,614.3 130.9,613.9 134.3,615.6 137.7,616.9 141.1,618.6 144.5,620.8 147.9,621.3 151.3,621.9 154.7,622.6 158.1,623.2 161.5,624.2 164.9,625.0 168.3,625.4 171.7,626.0 175.1,627.3 178.5,628.2 181.9,628.9 185.3,629.6 188.7,630.0 192.1,629.8 195.5,629.8 198.9,628.4 202.3,627.4 205.7,625.3 209.1,623.3 212.5,618.6 215.9,614.6 219.2,610.7 222.6,607.0 226.0,601.7 229.4,593.5 232.8,583.9 236.2,573.5 239.6,564.6 243.0,557.6 246.4,552.5 249.8,546.4 253.2,534.2 256.6,522.1 260.0,511.6 263.4,502.3 266.8,496.9 270.2,485.4 273.6,477.8 277.0,469.9 280.4,464.3 283.8,455.9 287.2,452.6 290.6,448.9 294.0,436.2 297.4,423.3 300.8,406.5 304.2,393.3 307.6,381.9 311.0,372.4 314.4,361.9 317.8,356.7 321.2,358.2 324.6,358.7 328.0,358.6 331.4,361.1 334.8,365.4 338.2,365.9 341.6,359.4 345.0,357.0 348.4,351.7 351.8,347.2 355.1,346.7 358.5,345.6 361.9,346.1 365.3,343.5 368.7,338.2 372.1,330.2 375.5,328.2 378.9,322.1 382.3,318.5 385.7,318.5 389.1,317.5 392.5,317.3 395.9,320.1 399.3,325.8 402.7,328.2 406.1,330.4 409.5,334.7 412.9,341.2 416.3,347.5 419.7,354.4 423.1,364.8 426.5,366.4 429.9,363.3 433.3,358.9 436.7,360.2 440.1,360.0 443.5,355.8 446.9,353.8 450.3,350.7 453.7,351.5 457.1,349.5 460.5,349.6 463.9,350.4 467.3,354.7 470.7,360.2 474.1,363.8 477.5,370.2 480.9,373.9 484.3,376.8 487.7,378.1 491.0,379.5 494.4,380.9 497.8,383.4 501.2,386.3 504.6,387.8 508.0,388.3 511.4,389.0 514.8,389.6 518.2,390.7 521.6,391.0 525.0,389.8 528.4,389.8 531.8,390.2 535.2,388.0 538.6,382.3 542.0,376.2 545.4,371.0 548.8,367.6 552.2,363.0 555.6,361.5 559.0,361.8 562.4,364.9 565.8,367.2 569.2,371.1 572.6,374.2 576.0,376.7 579.4,380.2 582.8,383.2 586.2,386.7 589.6,388.9 593.0,391.4 596.4,395.1 599.8,396.9 603.2,398.5 606.6,402.4 610.0,406.7 613.4,412.5 616.8,417.3 620.2,424.6 623.6,431.4 626.9,437.2 630.3,445.4 633.7,450.8 637.1,456.3 640.5,461.3 643.9,465.7 647.3,469.4 650.7,470.4 654.1,472.8 657.5,475.7 660.9,477.8 664.3,480.7 667.7,483.5 671.1,485.3 674.5,488.2 677.9,490.3 681.3,492.5 684.7,494.6 688.1,495.8 691.5,499.0 694.9,503.6 698.3,508.4 701.7,512.5 705.1,515.3 708.5,517.1 711.9,518.9 715.3,522.2 718.7,523.2 722.1,526.4 725.5,529.4 728.9,532.5 732.3,539.5 735.7,545.1 739.1,550.0 742.5,554.1 745.9,559.2 749.3,563.3 752.7,566.6 756.1,569.4 759.5,572.7 762.9,575.0 766.2,573.8 769.6,571.0 773.0,569.8 776.4,568.1 779.8,568.0 783.2,567.4 786.6,567.8 790.0,567.7 793.4,569.1 796.8,570.3 800.2,569.4 803.6,568.4 807.0,567.8 810.4,566.9 813.8,567.3 817.2,568.5 820.6,570.3 824.0,571.3 827.4,572.4 830.8,573.5 834.2,574.6 837.6,575.3 841.0,576.0 844.4,574.0 847.8,570.7 851.2,567.6 854.6,564.5 858.0,561.7 861.4,560.1 864.8,556.3 868.2,553.5 871.6,551.3 875.0,548.4 878.4,545.5 881.8,544.2 885.2,543.9 888.6,542.6 892.0,541.8 895.4,541.2 898.8,540.2 902.1,537.3 905.5,534.9 908.9,532.0 912.3,529.7 915.7,526.4 919.1,523.8 922.5,521.3 925.9,518.9 929.3,515.1 932.7,513.7 936.1,514.6 939.5,514.7 942.9,514.7 946.3,515.6 949.7,516.6 953.1,517.6 956.5,519.5 959.9,522.2 963.3,525.5 966.7,527.2 970.1,528.1 973.5,528.8 976.9,528.7 980.3,527.8 983.7,527.2 987.1,526.2 990.5,527.3 993.9,528.0 997.3,529.3 1000.7,531.0 1004.1,531.1 1007.5,531.6 1010.9,533.6 1014.3,536.6 1017.7,539.1 1021.1,541.3 1024.5,543.2 1027.9,544.9 1031.3,546.7 1034.7,548.1 1038.0,550.0 1041.4,551.9 1044.8,553.9 1048.2,555.5 1051.6,556.0 1055.0,556.2 1058.4,556.3 1061.8,555.6 1065.2,555.3 1068.6,555.4 1072.0,555.4 1075.4,555.1 1078.8,554.9 1082.2,556.2 1085.6,557.4 1089.0,558.4 1092.4,559.9 1095.8,561.5 1099.2,562.4 1102.6,563.0 1106.0,563.0 1109.4,562.9 1112.8,562.6 1116.2,561.1 1119.6,560.3 1123.0,560.7 1126.4,560.9 1129.8,561.6 1133.2,562.0 1136.6,562.7 1140.0,563.6 1143.4,565.3 1146.8,566.6 1150.2,567.6 1153.6,569.5 1157.0,570.9 1160.4,572.1 1163.8,573.4 1167.2,573.9 1170.6,575.1 1173.9,576.3 1177.3,577.8 1180.7,577.9 1184.1,577.5 1187.5,576.3 1190.9,574.4 1194.3,572.1 1197.7,570.4 1201.1,568.2 1204.5,567.0 1207.9,565.7 1211.3,563.9 1214.7,562.2 1218.1,561.1 1221.5,559.4 1224.9,559.0 1228.3,557.8 1231.7,555.4 1235.1,552.5 1238.5,549.4 1241.9,547.6 1245.3,545.7 1248.7,540.2 1252.1,535.8 1255.5,532.3 1258.9,526.8 1262.3,522.6 1265.7,517.9 1269.1,513.2 1272.5,509.8 1275.9,508.4 1279.3,506.6 1282.7,504.4 1286.1,503.1 1289.5,504.4 1292.9,503.0 1296.3,500.3 1299.7,498.3 1303.1,496.7 1306.5,494.8 1309.8,494.7 1313.2,494.8 1316.6,495.2 1320.0,495.9 1323.4,496.7 1326.8,495.7 1330.2,495.5 1333.6,494.0 1337.0,492.5 1340.4,492.7 1343.8,485.1 1347.2,479.3 1350.6,475.2 1354.0,469.2 1357.4,461.8 1360.8,454.2 1364.2,449.0 1367.6,444.0 1371.0,442.4 1374.4,439.5 1377.8,438.4 1381.2,434.9 1384.6,433.9 1388.0,430.6 1391.4,423.0 1394.8,411.2"/>
<path d="M24.95 623.4h1.1V649.8h-1.1zM27.95 629.3h1.1V639.1h-1.1zM38.95 634.7h1.1V641.6h-1.1zM41.95 631.3h1.1V640.4h-1.1zM51.95 643.5h1.1V656.1h-1.1zM55.95 630.3h1.1V649.2h-1.1zM58.95 625.9h1.1V635.4h-1.1zM75.95 639.7h1.1V646.0h-1.1zM78.95 618.0h1.1V641.0h-1.1zM82.95 604.2h1.1V621.3h-1.1zM85.95 594.8h1.1V615.3h-1.1zM92.95 606.8h1.1V619.0h-1.1zM99.95 608.8h1.1V618.0h-1.1zM106.95 604.0h1.1V620.9h-1.1zM119.95 612.1h1.1V622.8h-1.1zM123.95 592.9h1.1V621.6h-1.1zM126.95 586.2h1.1V598.0h-1.1zM136.95 627.8h1.1V638.5h-1.1zM146.95 624.3h1.1V641.9h-1.1zM157.95 627.8h1.1V631.0h-1.1zM163.95 631.6h1.1V638.1h-1.1zM167.95 629.1h1.1V634.7h-1.1zM177.95 635.4h1.1V641.9h-1.1zM180.95 635.4h1.1V640.4h-1.1zM184.95 632.2h1.1V637.2h-1.1zM187.95 633.1h1.1V636.9h-1.1zM191.95 624.7h1.1V636.9h-1.1zM197.95 610.9h1.1V629.1h-1.1zM204.95 603.0h1.1V624.1h-1.1zM208.95 597.1h1.1V607.1h-1.1zM211.95 570.7h1.1V608.8h-1.1zM218.95 569.1h1.1V583.9h-1.1zM221.95 567.0h1.1V585.8h-1.1zM225.95 545.0h1.1V580.8h-1.1zM228.95 498.7h1.1V556.4h-1.1zM231.95 479.1h1.1V535.8h-1.1zM235.95 463.2h1.1V511.0h-1.1zM248.95 485.3h1.1V509.0h-1.1zM252.95 413.1h1.1V493.6h-1.1zM255.95 357.7h1.1V432.7h-1.1zM269.95 345.4h1.1V456.4h-1.1zM276.95 385.0h1.1V424.5h-1.1zM282.95 360.4h1.1V418.3h-1.1zM289.95 395.6h1.1V430.7h-1.1zM292.95 300.6h1.1V415.2h-1.1zM296.95 242.3h1.1V323.7h-1.1zM299.95 225.2h1.1V306.2h-1.1zM313.95 250.1h1.1V286.6h-1.1zM323.95 362.9h1.1V391.5h-1.1zM326.95 349.5h1.1V375.3h-1.1zM337.95 367.0h1.1V416.2h-1.1zM340.95 290.1h1.1V379.4h-1.1zM347.95 288.7h1.1V335.0h-1.1zM357.95 320.6h1.1V357.7h-1.1zM364.95 301.0h1.1V383.2h-1.1zM367.95 287.6h1.1V321.6h-1.1zM371.95 214.4h1.1V296.9h-1.1zM377.95 259.8h1.1V314.4h-1.1zM388.95 294.8h1.1V322.7h-1.1zM401.95 348.5h1.1V383.2h-1.1zM405.95 342.3h1.1V377.3h-1.1zM425.95 380.0h1.1V471.9h-1.1zM428.95 312.4h1.1V384.0h-1.1zM432.95 273.2h1.1V344.3h-1.1zM439.95 344.3h1.1V383.2h-1.1zM442.95 311.3h1.1V362.9h-1.1zM449.95 290.1h1.1V342.3h-1.1zM456.95 314.4h1.1V371.1h-1.1zM473.95 387.4h1.1V414.2h-1.1zM479.95 405.9h1.1V439.9h-1.1zM483.95 390.5h1.1V417.3h-1.1zM486.95 387.4h1.1V417.3h-1.1zM503.95 395.6h1.1V420.4h-1.1zM507.95 375.3h1.1V409.0h-1.1zM513.95 393.5h1.1V404.9h-1.1zM520.95 387.4h1.1V407.0h-1.1zM524.95 377.3h1.1V402.8h-1.1zM534.95 358.8h1.1V397.7h-1.1zM537.95 320.2h1.1V370.0h-1.1zM541.95 296.3h1.1V336.1h-1.1zM551.95 311.3h1.1V338.1h-1.1zM564.95 386.9h1.1V401.7h-1.1zM571.95 394.9h1.1V414.4h-1.1zM574.95 398.3h1.1V420.5h-1.1zM581.95 400.3h1.1V417.8h-1.1zM588.95 407.0h1.1V420.5h-1.1zM598.95 409.1h1.1V429.9h-1.1zM602.95 411.1h1.1V428.5h-1.1zM615.95 454.1h1.1V468.2h-1.1zM625.95 480.8h1.1V510.7h-1.1zM632.95 499.3h1.1V534.4h-1.1zM642.95 494.2h1.1V513.8h-1.1zM646.95 503.5h1.1V513.8h-1.1zM649.95 464.9h1.1V507.6h-1.1zM659.95 495.2h1.1V510.7h-1.1zM670.95 493.1h1.1V509.6h-1.1zM676.95 506.5h1.1V523.0h-1.1zM687.95 504.5h1.1V515.8h-1.1zM700.95 544.7h1.1V556.0h-1.1zM704.95 537.5h1.1V555.0h-1.1zM707.95 532.3h1.1V543.7h-1.1zM717.95 523.0h1.1V557.1h-1.1zM734.95 596.2h1.1V610.7h-1.1zM738.95 595.2h1.1V610.7h-1.1zM741.95 586.3h1.1V599.3h-1.1zM748.95 600.4h1.1V610.7h-1.1zM751.95 595.2h1.1V607.6h-1.1zM755.95 589.4h1.1V600.4h-1.1zM761.95 596.2h1.1V605.5h-1.1zM765.95 559.1h1.1V597.7h-1.1zM768.95 531.3h1.1V563.2h-1.1zM775.95 539.1h1.1V559.1h-1.1zM782.95 554.0h1.1V568.4h-1.1zM789.95 557.1h1.1V572.5h-1.1zM795.95 576.6h1.1V584.9h-1.1zM799.95 554.0h1.1V587.6h-1.1zM802.95 553.6h1.1V567.4h-1.1zM809.95 554.6h1.1V563.2h-1.1zM823.95 579.7h1.1V590.7h-1.1zM836.95 577.7h1.1V586.5h-1.1zM843.95 545.7h1.1V583.9h-1.1zM846.95 506.5h1.1V557.1h-1.1zM850.95 523.5h1.1V543.7h-1.1zM853.95 530.3h1.1V549.8h-1.1zM863.95 508.6h1.1V546.8h-1.1zM873.95 515.8h1.1V531.7h-1.1zM877.95 504.5h1.1V523.0h-1.1zM887.95 524.1h1.1V548.2h-1.1zM897.95 529.2h1.1V537.5h-1.1zM901.95 508.6h1.1V531.7h-1.1zM907.95 504.1h1.1V518.9h-1.1zM914.95 487.0h1.1V508.2h-1.1zM921.95 492.1h1.1V504.5h-1.1zM924.95 492.1h1.1V500.4h-1.1zM928.95 476.6h1.1V498.3h-1.1zM938.95 514.4h1.1V524.1h-1.1zM941.95 513.4h1.1V517.9h-1.1zM965.95 538.5h1.1V559.7h-1.1zM969.95 535.3h1.1V544.1h-1.1zM972.95 533.8h1.1V541.0h-1.1zM975.95 521.4h1.1V537.9h-1.1zM979.95 514.6h1.1V532.4h-1.1zM986.95 515.9h1.1V526.6h-1.1zM992.95 532.8h1.1V541.4h-1.1zM1003.95 526.6h1.1V547.6h-1.1zM1016.95 560.6h1.1V570.9h-1.1zM1020.95 559.6h1.1V564.7h-1.1zM1023.95 555.5h1.1V565.8h-1.1zM1047.95 569.5h1.1V582.3h-1.1zM1050.95 553.4h1.1V570.9h-1.1zM1054.95 553.0h1.1V562.1h-1.1zM1057.95 554.4h1.1V561.6h-1.1zM1060.95 545.2h1.1V559.2h-1.1zM1074.95 546.8h1.1V556.5h-1.1zM1077.95 550.3h1.1V555.5h-1.1zM1088.95 566.8h1.1V570.9h-1.1zM1098.95 569.5h1.1V577.1h-1.1zM1101.95 563.7h1.1V573.6h-1.1zM1104.95 559.2h1.1V573.0h-1.1zM1108.95 559.6h1.1V565.8h-1.1zM1111.95 557.5h1.1V563.7h-1.1zM1115.95 545.2h1.1V560.6h-1.1zM1125.95 560.6h1.1V574.4h-1.1zM1132.95 563.7h1.1V569.9h-1.1zM1145.95 577.1h1.1V582.3h-1.1zM1149.95 575.1h1.1V582.3h-1.1zM1155.95 579.2h1.1V588.0h-1.1zM1159.95 582.3h1.1V585.4h-1.1zM1166.95 572.4h1.1V584.7h-1.1zM1179.95 576.1h1.1V592.6h-1.1zM1183.95 568.9h1.1V580.6h-1.1zM1186.95 563.7h1.1V579.2h-1.1zM1189.95 554.4h1.1V574.0h-1.1zM1193.95 544.7h1.1V561.6h-1.1zM1200.95 536.5h1.1V554.4h-1.1zM1206.95 551.3h1.1V557.1h-1.1zM1210.95 545.6h1.1V557.5h-1.1zM1213.95 541.0h1.1V553.8h-1.1zM1220.95 539.0h1.1V559.6h-1.1zM1227.95 545.2h1.1V563.7h-1.1zM1230.95 528.2h1.1V547.2h-1.1zM1234.95 521.4h1.1V534.8h-1.1zM1237.95 517.3h1.1V535.9h-1.1zM1244.95 522.5h1.1V532.8h-1.1zM1247.95 487.8h1.1V552.4h-1.1zM1257.95 470.3h1.1V511.8h-1.1zM1264.95 472.0h1.1V504.9h-1.1zM1268.95 465.2h1.1V481.2h-1.1zM1278.95 487.8h1.1V513.8h-1.1zM1281.95 480.2h1.1V497.7h-1.1zM1291.95 486.4h1.1V516.7h-1.1zM1295.95 470.3h1.1V491.5h-1.1zM1305.95 474.0h1.1V489.5h-1.1zM1325.95 484.9h1.1V504.9h-1.1zM1332.95 468.2h1.1V502.9h-1.1zM1336.95 470.3h1.1V493.6h-1.1zM1342.95 408.2h1.1V497.7h-1.1zM1353.95 404.3h1.1V435.9h-1.1zM1356.95 371.3h1.1V458.3h-1.1zM1359.95 355.2h1.1V402.7h-1.1zM1366.95 386.2h1.1V417.6h-1.1zM1373.95 394.5h1.1V427.8h-1.1zM1380.95 397.2h1.1V450.5h-1.1zM1386.95 394.1h1.1V425.4h-1.1zM1390.95 345.0h1.1V406.6h-1.1zM1393.95 269.0h1.1V356.8h-1.1zM24.10 634.1h2.8V639.1h-2.8zM27.10 632.2h2.8V635.4h-2.8zM38.10 636.0h2.8V641.0h-2.8zM41.10 632.8h2.8V636.6h-2.8zM51.10 644.8h2.8V649.2h-2.8zM55.10 632.2h2.8V645.4h-2.8zM58.10 629.7h2.8V633.5h-2.8zM75.10 640.4h2.8V644.8h-2.8zM78.10 619.7h2.8V640.4h-2.8zM82.10 611.3h2.8V620.3h-2.8zM85.10 601.7h2.8V612.1h-2.8zM92.10 607.8h2.8V614.7h-2.8zM99.10 609.9h2.8V616.8h-2.8zM106.10 605.9h2.8V616.5h-2.8zM119.10 613.0h2.8V618.4h-2.8zM123.10 595.8h2.8V614.0h-2.8zM126.10 594.0h2.8V597.1h-2.8zM136.10 629.7h2.8V631.3h-2.8zM146.10 625.9h2.8V641.6h-2.8zM157.10 628.7h2.8V629.9h-2.8zM163.10 632.2h2.8V633.5h-2.8zM167.10 629.7h2.8V632.8h-2.8zM177.10 636.4h2.8V640.0h-2.8zM180.10 635.8h2.8V637.0h-2.8zM184.10 635.7h2.8V636.9h-2.8zM187.10 634.1h2.8V636.2h-2.8zM191.10 627.8h2.8V634.7h-2.8zM197.10 615.0h2.8V628.5h-2.8zM204.10 605.9h2.8V617.2h-2.8zM208.10 604.0h2.8V606.5h-2.8zM211.10 573.6h2.8V604.6h-2.8zM218.10 573.2h2.8V576.4h-2.8zM221.10 571.4h2.8V574.5h-2.8zM225.10 551.9h2.8V572.0h-2.8zM228.10 515.2h2.8V553.4h-2.8zM231.10 492.5h2.8V516.2h-2.8zM235.10 475.4h2.8V492.5h-2.8zM248.10 488.0h2.8V503.9h-2.8zM252.10 418.3h2.8V488.4h-2.8zM255.10 407.0h2.8V418.3h-2.8zM269.10 376.3h2.8V445.1h-2.8zM276.10 394.2h2.8V405.9h-2.8zM282.10 376.3h2.8V411.1h-2.8zM289.10 414.2h2.8V421.4h-2.8zM292.10 315.5h2.8V414.2h-2.8zM296.10 300.0h2.8V315.5h-2.8zM299.10 247.8h2.8V302.1h-2.8zM313.10 261.9h2.8V281.4h-2.8zM323.10 363.9h2.8V372.2h-2.8zM326.10 357.7h2.8V369.1h-2.8zM337.10 370.1h2.8V405.9h-2.8zM340.10 297.9h2.8V362.9h-2.8zM347.10 301.0h2.8V333.0h-2.8zM357.10 335.0h2.8V341.2h-2.8zM364.10 318.1h2.8V351.5h-2.8zM367.10 288.2h2.8V319.6h-2.8zM371.10 254.6h2.8V288.7h-2.8zM377.10 263.9h2.8V309.3h-2.8zM388.10 307.2h2.8V318.6h-2.8zM401.10 351.5h2.8V378.1h-2.8zM405.10 351.5h2.8V367.0h-2.8zM425.10 382.2h2.8V463.7h-2.8zM428.10 334.0h2.8V382.2h-2.8zM432.10 317.1h2.8V335.0h-2.8zM439.10 357.7h2.8V372.2h-2.8zM442.10 316.5h2.8V358.8h-2.8zM449.10 320.6h2.8V335.0h-2.8zM456.10 329.9h2.8V359.8h-2.8zM473.10 397.3h2.8V413.1h-2.8zM479.10 409.0h2.8V431.7h-2.8zM483.10 403.9h2.8V409.0h-2.8zM486.10 390.5h2.8V403.9h-2.8zM503.10 401.8h2.8V414.2h-2.8zM507.10 393.6h2.8V402.8h-2.8zM513.10 394.6h2.8V396.6h-2.8zM520.10 393.6h2.8V401.8h-2.8zM524.10 378.1h2.8V393.6h-2.8zM534.10 367.0h2.8V393.6h-2.8zM537.10 327.8h2.8V368.0h-2.8zM541.10 318.6h2.8V327.8h-2.8zM551.10 319.2h2.8V335.0h-2.8zM564.10 388.9h2.8V394.3h-2.8zM571.10 404.4h2.8V407.7h-2.8zM574.10 400.1h2.8V404.6h-2.8zM581.10 411.1h2.8V413.8h-2.8zM588.10 410.4h2.8V419.8h-2.8zM598.10 413.8h2.8V429.6h-2.8zM602.10 413.5h2.8V414.7h-2.8zM615.10 463.2h2.8V467.5h-2.8zM625.10 493.1h2.8V495.2h-2.8zM632.10 501.4h2.8V523.0h-2.8zM642.10 507.6h2.8V509.6h-2.8zM646.10 504.5h2.8V509.0h-2.8zM649.10 479.3h2.8V505.5h-2.8zM659.10 498.3h2.8V502.4h-2.8zM670.10 502.4h2.8V509.0h-2.8zM676.10 510.7h2.8V515.8h-2.8zM687.10 507.6h2.8V514.8h-2.8zM700.10 551.9h2.8V554.0h-2.8zM704.10 541.6h2.8V552.9h-2.8zM707.10 534.4h2.8V542.6h-2.8zM717.10 533.4h2.8V552.9h-2.8zM734.10 598.3h2.8V605.5h-2.8zM738.10 597.3h2.8V603.5h-2.8zM741.10 593.1h2.8V597.7h-2.8zM748.10 601.4h2.8V607.6h-2.8zM751.10 598.3h2.8V601.8h-2.8zM755.10 596.2h2.8V598.7h-2.8zM761.10 597.3h2.8V603.9h-2.8zM765.10 562.2h2.8V597.3h-2.8zM768.10 544.1h2.8V562.2h-2.8zM775.10 551.9h2.8V558.1h-2.8zM782.10 562.2h2.8V567.4h-2.8zM789.10 566.3h2.8V571.5h-2.8zM795.10 581.2h2.8V583.2h-2.8zM799.10 561.2h2.8V581.8h-2.8zM802.10 559.1h2.8V561.8h-2.8zM809.10 558.1h2.8V562.2h-2.8zM823.10 580.4h2.8V588.0h-2.8zM836.10 581.8h2.8V584.9h-2.8zM843.10 555.0h2.8V582.8h-2.8zM846.10 539.5h2.8V556.0h-2.8zM850.10 538.1h2.8V539.9h-2.8zM853.10 534.4h2.8V538.5h-2.8zM863.10 520.6h2.8V544.7h-2.8zM873.10 520.6h2.8V530.3h-2.8zM877.10 518.5h2.8V521.0h-2.8zM887.10 530.3h2.8V541.6h-2.8zM897.10 530.3h2.8V536.4h-2.8zM901.10 509.6h2.8V530.9h-2.8zM907.10 505.1h2.8V511.7h-2.8zM914.10 494.2h2.8V507.6h-2.8zM921.10 497.3h2.8V499.3h-2.8zM924.10 496.2h2.8V498.3h-2.8zM928.10 479.1h2.8V497.3h-2.8zM938.10 515.8h2.8V523.5h-2.8zM941.10 514.8h2.8V516.9h-2.8zM965.10 543.7h2.8V556.4h-2.8zM969.10 536.9h2.8V543.1h-2.8zM972.10 534.8h2.8V537.9h-2.8zM975.10 527.6h2.8V536.9h-2.8zM979.10 519.4h2.8V527.6h-2.8zM986.10 516.7h2.8V521.4h-2.8zM992.10 534.8h2.8V538.6h-2.8zM1003.10 532.8h2.8V546.8h-2.8zM1016.10 563.3h2.8V565.4h-2.8zM1020.10 562.1h2.8V563.7h-2.8zM1023.10 560.6h2.8V562.7h-2.8zM1047.10 570.3h2.8V573.0h-2.8zM1050.10 560.6h2.8V570.3h-2.8zM1054.10 558.6h2.8V561.2h-2.8zM1057.10 557.1h2.8V559.6h-2.8zM1060.10 549.3h2.8V557.9h-2.8zM1074.10 553.0h2.8V555.9h-2.8zM1077.10 552.4h2.8V553.8h-2.8zM1088.10 567.8h2.8V569.5h-2.8zM1098.10 570.3h2.8V576.1h-2.8zM1101.10 569.5h2.8V572.0h-2.8zM1104.10 562.7h2.8V572.0h-2.8zM1108.10 562.1h2.8V563.7h-2.8zM1111.10 559.6h2.8V562.7h-2.8zM1115.10 547.2h2.8V560.0h-2.8zM1125.10 562.1h2.8V564.7h-2.8zM1132.10 566.2h2.8V568.2h-2.8zM1145.10 578.6h2.8V581.2h-2.8zM1149.10 577.1h2.8V579.2h-2.8zM1155.10 584.3h2.8V587.4h-2.8zM1159.10 583.3h2.8V584.7h-2.8zM1166.10 579.2h2.8V584.3h-2.8zM1179.10 578.6h2.8V592.2h-2.8zM1183.10 573.6h2.8V579.2h-2.8zM1186.10 564.7h2.8V574.0h-2.8zM1189.10 557.1h2.8V565.4h-2.8zM1193.10 550.3h2.8V557.5h-2.8zM1200.10 548.2h2.8V553.4h-2.8zM1206.10 553.0h2.8V555.5h-2.8zM1210.10 546.8h2.8V553.4h-2.8zM1213.10 546.1h2.8V547.3h-2.8zM1220.10 543.1h2.8V550.3h-2.8zM1227.10 546.2h2.8V555.5h-2.8zM1230.10 532.4h2.8V546.8h-2.8zM1234.10 525.6h2.8V532.8h-2.8zM1237.10 519.4h2.8V526.2h-2.8zM1244.10 527.6h2.8V530.7h-2.8zM1247.10 488.5h2.8V528.2h-2.8zM1257.10 475.1h2.8V498.8h-2.8zM1264.10 473.0h2.8V481.2h-2.8zM1268.10 468.2h2.8V474.0h-2.8zM1278.10 489.1h2.8V495.7h-2.8zM1281.10 483.3h2.8V489.5h-2.8zM1291.10 489.5h2.8V516.3h-2.8zM1295.10 474.6h2.8V490.5h-2.8zM1305.10 476.7h2.8V481.2h-2.8zM1325.10 486.4h2.8V504.3h-2.8zM1332.10 479.2h2.8V494.0h-2.8zM1336.10 478.1h2.8V479.6h-2.8zM1342.10 412.9h2.8V494.6h-2.8zM1353.10 412.9h2.8V435.6h-2.8zM1356.10 390.9h2.8V413.4h-2.8zM1359.10 382.0h2.8V391.4h-2.8zM1366.10 397.2h2.8V399.6h-2.8zM1373.10 411.3h2.8V426.5h-2.8zM1380.10 401.4h2.8V428.6h-2.8zM1386.10 399.2h2.8V424.6h-2.8zM1390.10 351.0h2.8V399.6h-2.8zM1393.10 299.5h2.8V351.5h-2.8z" fill="#089981"/><path d="M14.95 610.3h1.1V636.0h-1.1zM17.95 615.3h1.1V638.9h-1.1zM21.95 629.1h1.1V644.1h-1.1zM31.95 627.8h1.1V644.1h-1.1zM34.95 636.6h1.1V644.8h-1.1zM44.95 631.3h1.1V649.2h-1.1zM48.95 647.3h1.1V656.7h-1.1zM61.95 629.7h1.1V636.6h-1.1zM65.95 630.3h1.1V639.1h-1.1zM68.95 634.1h1.1V642.9h-1.1zM72.95 639.7h1.1V649.8h-1.1zM89.95 600.0h1.1V615.3h-1.1zM95.95 604.0h1.1V619.7h-1.1zM102.95 608.4h1.1V622.8h-1.1zM109.95 599.0h1.1V610.3h-1.1zM112.95 605.0h1.1V613.8h-1.1zM116.95 609.0h1.1V619.0h-1.1zM129.95 590.8h1.1V613.4h-1.1zM133.95 605.0h1.1V636.0h-1.1zM140.95 628.2h1.1V635.4h-1.1zM143.95 630.3h1.1V644.8h-1.1zM150.95 624.3h1.1V629.7h-1.1zM153.95 626.6h1.1V639.1h-1.1zM160.95 627.8h1.1V634.1h-1.1zM170.95 626.6h1.1V634.1h-1.1zM174.95 630.3h1.1V641.0h-1.1zM194.95 623.1h1.1V631.0h-1.1zM201.95 612.8h1.1V619.0h-1.1zM214.95 556.1h1.1V578.9h-1.1zM238.95 463.7h1.1V497.7h-1.1zM242.95 459.1h1.1V491.5h-1.1zM245.95 479.1h1.1V518.7h-1.1zM259.95 354.2h1.1V422.4h-1.1zM262.95 386.3h1.1V428.6h-1.1zM265.95 411.0h1.1V455.4h-1.1zM272.95 354.6h1.1V417.3h-1.1zM279.95 388.0h1.1V422.4h-1.1zM286.95 370.0h1.1V440.0h-1.1zM303.95 238.1h1.1V273.2h-1.1zM306.95 252.6h1.1V304.1h-1.1zM309.95 245.4h1.1V309.3h-1.1zM316.95 230.3h1.1V323.7h-1.1zM320.95 296.9h1.1V389.0h-1.1zM330.95 346.4h1.1V390.5h-1.1zM333.95 378.0h1.1V429.6h-1.1zM343.95 264.3h1.1V338.1h-1.1zM350.95 290.7h1.1V315.5h-1.1zM354.95 292.8h1.1V342.3h-1.1zM360.95 327.8h1.1V367.0h-1.1zM374.95 246.4h1.1V323.7h-1.1zM381.95 248.5h1.1V296.9h-1.1zM384.95 278.4h1.1V327.8h-1.1zM391.95 301.0h1.1V338.1h-1.1zM394.95 313.4h1.1V367.0h-1.1zM398.95 342.3h1.1V397.7h-1.1zM408.95 339.2h1.1V380.0h-1.1zM411.95 369.0h1.1V412.1h-1.1zM415.95 395.6h1.1V423.5h-1.1zM418.95 394.6h1.1V451.3h-1.1zM422.95 408.0h1.1V483.2h-1.1zM435.95 300.0h1.1V392.5h-1.1zM445.95 279.4h1.1V337.1h-1.1zM452.95 312.4h1.1V360.8h-1.1zM459.95 323.1h1.1V364.9h-1.1zM462.95 329.9h1.1V364.9h-1.1zM466.95 354.6h1.1V410.0h-1.1zM469.95 389.4h1.1V418.3h-1.1zM476.95 394.6h1.1V439.9h-1.1zM490.95 383.2h1.1V405.9h-1.1zM493.95 386.3h1.1V401.8h-1.1zM496.95 386.3h1.1V415.2h-1.1zM500.95 402.8h1.1V427.6h-1.1zM510.95 392.5h1.1V410.0h-1.1zM517.95 389.4h1.1V403.9h-1.1zM527.95 373.2h1.1V392.5h-1.1zM530.95 382.2h1.1V412.1h-1.1zM544.95 313.0h1.1V332.0h-1.1zM547.95 319.6h1.1V343.3h-1.1zM554.95 312.4h1.1V348.5h-1.1zM558.95 326.8h1.1V372.2h-1.1zM561.95 357.7h1.1V397.7h-1.1zM568.95 388.2h1.1V418.7h-1.1zM578.95 380.8h1.1V432.6h-1.1zM585.95 409.1h1.1V424.5h-1.1zM591.95 401.0h1.1V416.5h-1.1zM595.95 411.7h1.1V436.6h-1.1zM605.95 413.8h1.1V440.6h-1.1zM608.95 432.6h1.1V457.4h-1.1zM612.95 443.3h1.1V479.6h-1.1zM619.95 458.1h1.1V502.4h-1.1zM622.95 483.9h1.1V499.3h-1.1zM629.95 492.1h1.1V533.4h-1.1zM636.95 500.4h1.1V510.7h-1.1zM639.95 499.3h1.1V514.8h-1.1zM653.95 471.5h1.1V498.3h-1.1zM656.95 489.0h1.1V504.5h-1.1zM663.95 496.2h1.1V509.6h-1.1zM666.95 501.4h1.1V521.0h-1.1zM673.95 501.4h1.1V525.1h-1.1zM680.95 505.5h1.1V513.8h-1.1zM683.95 510.7h1.1V517.9h-1.1zM690.95 502.4h1.1V530.3h-1.1zM693.95 523.0h1.1V548.8h-1.1zM697.95 526.1h1.1V559.7h-1.1zM710.95 528.2h1.1V538.5h-1.1zM714.95 534.4h1.1V572.9h-1.1zM721.95 531.3h1.1V557.1h-1.1zM724.95 543.7h1.1V560.2h-1.1zM727.95 548.8h1.1V564.3h-1.1zM731.95 561.2h1.1V638.5h-1.1zM744.95 591.1h1.1V609.6h-1.1zM758.95 595.2h1.1V605.1h-1.1zM772.95 533.8h1.1V560.2h-1.1zM778.95 550.9h1.1V575.6h-1.1zM785.95 554.0h1.1V572.9h-1.1zM792.95 565.3h1.1V591.5h-1.1zM806.95 558.1h1.1V569.4h-1.1zM812.95 555.6h1.1V572.9h-1.1zM816.95 567.4h1.1V583.9h-1.1zM819.95 570.5h1.1V589.0h-1.1zM826.95 579.1h1.1V587.0h-1.1zM829.95 580.8h1.1V585.9h-1.1zM833.95 581.8h1.1V602.8h-1.1zM839.95 573.1h1.1V587.0h-1.1zM856.95 524.1h1.1V547.8h-1.1zM860.95 519.9h1.1V546.8h-1.1zM867.95 513.4h1.1V530.3h-1.1zM870.95 525.1h1.1V531.7h-1.1zM880.95 516.9h1.1V536.4h-1.1zM884.95 529.2h1.1V542.6h-1.1zM890.95 519.9h1.1V534.4h-1.1zM894.95 531.3h1.1V538.5h-1.1zM904.95 484.5h1.1V512.7h-1.1zM911.95 500.4h1.1V511.7h-1.1zM918.95 485.5h1.1V500.8h-1.1zM931.95 474.2h1.1V502.0h-1.1zM935.95 496.2h1.1V527.6h-1.1zM945.95 514.4h1.1V525.1h-1.1zM948.95 517.9h1.1V527.2h-1.1zM952.95 516.9h1.1V529.6h-1.1zM955.95 525.1h1.1V547.8h-1.1zM958.95 534.4h1.1V554.0h-1.1zM962.95 538.5h1.1V582.8h-1.1zM982.95 509.1h1.1V527.6h-1.1zM989.95 515.3h1.1V539.0h-1.1zM996.95 533.2h1.1V543.1h-1.1zM999.95 539.0h1.1V549.7h-1.1zM1006.95 530.3h1.1V539.0h-1.1zM1009.95 531.8h1.1V555.5h-1.1zM1013.95 549.9h1.1V567.8h-1.1zM1026.95 558.6h1.1V564.7h-1.1zM1030.95 557.5h1.1V567.4h-1.1zM1033.95 559.2h1.1V566.2h-1.1zM1037.95 559.2h1.1V568.9h-1.1zM1040.95 567.2h1.1V570.9h-1.1zM1043.95 568.9h1.1V583.3h-1.1zM1064.95 543.5h1.1V554.4h-1.1zM1067.95 550.9h1.1V558.6h-1.1zM1071.95 550.3h1.1V557.5h-1.1zM1081.95 550.3h1.1V569.5h-1.1zM1084.95 564.7h1.1V570.5h-1.1zM1091.95 567.8h1.1V575.1h-1.1zM1094.95 572.0h1.1V578.6h-1.1zM1118.95 538.6h1.1V555.5h-1.1zM1121.95 550.3h1.1V566.2h-1.1zM1128.95 560.6h1.1V569.9h-1.1zM1135.95 565.8h1.1V571.5h-1.1zM1138.95 567.4h1.1V574.0h-1.1zM1142.95 569.9h1.1V587.4h-1.1zM1152.95 576.1h1.1V591.5h-1.1zM1162.95 581.9h1.1V587.4h-1.1zM1169.95 577.7h1.1V588.0h-1.1zM1172.95 581.2h1.1V588.9h-1.1zM1176.95 586.0h1.1V593.6h-1.1zM1196.95 546.2h1.1V557.5h-1.1zM1203.95 547.2h1.1V560.6h-1.1zM1217.95 542.1h1.1V560.6h-1.1zM1223.95 537.9h1.1V560.6h-1.1zM1240.95 518.4h1.1V537.3h-1.1zM1251.95 477.5h1.1V509.1h-1.1zM1254.95 482.3h1.1V506.0h-1.1zM1261.95 456.1h1.1V483.7h-1.1zM1271.95 460.2h1.1V479.2h-1.1zM1274.95 470.9h1.1V507.0h-1.1zM1285.95 477.1h1.1V492.6h-1.1zM1288.95 487.8h1.1V519.4h-1.1zM1298.95 465.4h1.1V481.2h-1.1zM1302.95 474.0h1.1V484.3h-1.1zM1308.95 475.5h1.1V501.9h-1.1zM1312.95 488.5h1.1V499.8h-1.1zM1315.95 492.6h1.1V506.4h-1.1zM1319.95 497.3h1.1V506.0h-1.1zM1322.95 493.6h1.1V509.1h-1.1zM1329.95 483.7h1.1V496.7h-1.1zM1339.95 470.3h1.1V495.7h-1.1zM1346.95 399.2h1.1V429.3h-1.1zM1349.95 389.4h1.1V440.3h-1.1zM1363.95 376.4h1.1V421.5h-1.1zM1370.95 390.9h1.1V427.8h-1.1zM1376.95 404.3h1.1V432.5h-1.1zM1383.95 394.1h1.1V425.4h-1.1zM14.10 613.4h2.8V617.8h-2.8zM17.10 616.8h2.8V636.6h-2.8zM21.10 635.4h2.8V639.1h-2.8zM31.10 632.2h2.8V639.7h-2.8zM34.10 639.1h2.8V641.0h-2.8zM44.10 632.8h2.8V648.5h-2.8zM48.10 647.9h2.8V650.4h-2.8zM61.10 630.6h2.8V635.4h-2.8zM65.10 633.5h2.8V637.9h-2.8zM68.10 637.2h2.8V641.6h-2.8zM72.10 641.6h2.8V645.4h-2.8zM89.10 601.5h2.8V614.7h-2.8zM95.10 607.8h2.8V615.9h-2.8zM102.10 609.9h2.8V616.8h-2.8zM109.10 605.9h2.8V609.6h-2.8zM112.10 609.0h2.8V612.8h-2.8zM116.10 612.1h2.8V618.4h-2.8zM129.10 594.0h2.8V610.3h-2.8zM133.10 608.4h2.8V631.6h-2.8zM140.10 629.7h2.8V634.7h-2.8zM143.10 634.1h2.8V641.6h-2.8zM150.10 625.9h2.8V627.8h-2.8zM153.10 627.5h2.8V629.3h-2.8zM160.10 628.8h2.8V633.5h-2.8zM170.10 629.7h2.8V631.6h-2.8zM174.10 631.2h2.8V640.0h-2.8zM194.10 627.8h2.8V629.7h-2.8zM201.10 615.0h2.8V617.8h-2.8zM214.10 573.9h2.8V577.3h-2.8zM238.10 475.4h2.8V480.2h-2.8zM242.10 480.2h2.8V490.5h-2.8zM245.10 490.5h2.8V504.5h-2.8zM259.10 408.0h2.8V412.1h-2.8zM262.10 411.7h2.8V414.2h-2.8zM265.10 414.2h2.8V445.1h-2.8zM272.10 376.3h2.8V405.9h-2.8zM279.10 394.2h2.8V411.1h-2.8zM286.10 375.3h2.8V421.4h-2.8zM303.10 247.8h2.8V267.0h-2.8zM306.10 267.0h2.8V274.2h-2.8zM309.10 274.2h2.8V282.5h-2.8zM316.10 261.9h2.8V307.2h-2.8zM320.10 307.2h2.8V372.2h-2.8zM330.10 357.7h2.8V384.3h-2.8zM333.10 381.2h2.8V407.0h-2.8zM343.10 298.6h2.8V334.0h-2.8zM350.10 302.0h2.8V305.2h-2.8zM354.10 305.2h2.8V341.2h-2.8zM360.10 335.0h2.8V351.5h-2.8zM374.10 254.6h2.8V309.3h-2.8zM381.10 263.9h2.8V284.5h-2.8zM384.10 283.5h2.8V318.6h-2.8zM391.10 307.2h2.8V315.5h-2.8zM394.10 315.5h2.8V347.4h-2.8zM398.10 347.4h2.8V379.1h-2.8zM408.10 351.5h2.8V375.0h-2.8zM411.10 372.0h2.8V402.8h-2.8zM415.10 401.8h2.8V408.0h-2.8zM418.10 407.0h2.8V419.3h-2.8zM422.10 419.3h2.8V463.7h-2.8zM435.10 317.1h2.8V372.2h-2.8zM445.10 316.5h2.8V335.0h-2.8zM452.10 320.6h2.8V359.8h-2.8zM459.10 329.9h2.8V350.5h-2.8zM462.10 350.5h2.8V357.7h-2.8zM466.10 357.7h2.8V395.6h-2.8zM469.10 395.6h2.8V413.1h-2.8zM476.10 397.3h2.8V431.7h-2.8zM490.10 390.5h2.8V392.5h-2.8zM493.10 392.5h2.8V394.6h-2.8zM496.10 394.6h2.8V407.0h-2.8zM500.10 407.0h2.8V414.2h-2.8zM510.10 393.6h2.8V395.6h-2.8zM517.10 395.6h2.8V401.8h-2.8zM527.10 378.1h2.8V390.5h-2.8zM530.10 390.5h2.8V393.6h-2.8zM544.10 318.6h2.8V321.6h-2.8zM547.10 321.6h2.8V335.0h-2.8zM554.10 319.2h2.8V347.4h-2.8zM558.10 347.4h2.8V364.9h-2.8zM561.10 362.9h2.8V394.6h-2.8zM568.10 388.9h2.8V407.7h-2.8zM578.10 400.1h2.8V413.8h-2.8zM585.10 411.1h2.8V419.8h-2.8zM591.10 410.4h2.8V415.1h-2.8zM595.10 413.1h2.8V429.9h-2.8zM605.10 414.2h2.8V440.0h-2.8zM608.10 438.0h2.8V447.4h-2.8zM612.10 446.0h2.8V467.5h-2.8zM619.10 463.2h2.8V494.2h-2.8zM622.10 492.1h2.8V495.2h-2.8zM629.10 493.1h2.8V523.0h-2.8zM636.10 501.4h2.8V508.6h-2.8zM639.10 507.6h2.8V509.6h-2.8zM653.10 479.3h2.8V496.2h-2.8zM656.10 490.1h2.8V502.4h-2.8zM663.10 497.3h2.8V508.6h-2.8zM666.10 507.6h2.8V509.6h-2.8zM673.10 502.4h2.8V515.8h-2.8zM680.10 510.7h2.8V512.7h-2.8zM683.10 511.7h2.8V514.8h-2.8zM690.10 507.6h2.8V529.2h-2.8zM693.10 528.2h2.8V546.8h-2.8zM697.10 546.8h2.8V554.0h-2.8zM710.10 534.4h2.8V536.4h-2.8zM714.10 536.4h2.8V552.9h-2.8zM721.10 533.4h2.8V556.0h-2.8zM724.10 555.0h2.8V558.1h-2.8zM727.10 556.0h2.8V562.2h-2.8zM731.10 562.2h2.8V605.5h-2.8zM744.10 593.1h2.8V607.6h-2.8zM758.10 596.2h2.8V603.9h-2.8zM772.10 544.1h2.8V558.1h-2.8zM778.10 551.9h2.8V567.4h-2.8zM785.10 562.2h2.8V571.5h-2.8zM792.10 566.3h2.8V582.8h-2.8zM806.10 559.1h2.8V562.2h-2.8zM812.10 558.1h2.8V571.5h-2.8zM816.10 570.5h2.8V579.3h-2.8zM819.10 579.3h2.8V588.0h-2.8zM826.10 580.4h2.8V582.8h-2.8zM829.10 581.8h2.8V583.9h-2.8zM833.10 583.2h2.8V585.3h-2.8zM839.10 581.2h2.8V582.8h-2.8zM856.10 534.3h2.8V535.5h-2.8zM860.10 535.4h2.8V544.7h-2.8zM867.10 520.6h2.8V527.2h-2.8zM870.10 526.1h2.8V530.3h-2.8zM880.10 517.9h2.8V531.3h-2.8zM884.10 530.9h2.8V541.6h-2.8zM890.10 530.3h2.8V533.4h-2.8zM894.10 532.9h2.8V536.4h-2.8zM904.10 509.6h2.8V511.7h-2.8zM911.10 505.1h2.8V508.2h-2.8zM918.10 494.2h2.8V499.3h-2.8zM931.10 479.1h2.8V500.4h-2.8zM935.10 499.9h2.8V523.5h-2.8zM945.10 515.2h2.8V524.1h-2.8zM948.10 523.0h2.8V526.1h-2.8zM952.10 524.7h2.8V527.2h-2.8zM955.10 526.1h2.8V537.5h-2.8zM958.10 537.1h2.8V547.8h-2.8zM962.10 547.4h2.8V556.4h-2.8zM982.10 517.9h2.8V521.4h-2.8zM989.10 516.7h2.8V537.9h-2.8zM996.10 534.8h2.8V541.0h-2.8zM999.10 540.0h2.8V547.2h-2.8zM1006.10 532.8h2.8V535.9h-2.8zM1009.10 534.8h2.8V552.4h-2.8zM1013.10 551.3h2.8V565.4h-2.8zM1026.10 560.5h2.8V561.7h-2.8zM1030.10 559.6h2.8V563.1h-2.8zM1033.10 560.2h2.8V562.1h-2.8zM1037.10 560.2h2.8V567.8h-2.8zM1040.10 567.8h2.8V569.9h-2.8zM1043.10 569.5h2.8V573.0h-2.8zM1064.10 549.3h2.8V552.4h-2.8zM1067.10 552.4h2.8V555.9h-2.8zM1071.10 551.3h2.8V555.5h-2.8zM1081.10 552.4h2.8V568.2h-2.8zM1084.10 567.8h2.8V569.3h-2.8zM1091.10 568.9h2.8V574.0h-2.8zM1094.10 573.6h2.8V577.1h-2.8zM1118.10 547.2h2.8V552.4h-2.8zM1121.10 551.3h2.8V564.7h-2.8zM1128.10 562.1h2.8V568.2h-2.8zM1135.10 566.8h2.8V569.9h-2.8zM1138.10 568.9h2.8V572.0h-2.8zM1142.10 571.5h2.8V581.2h-2.8zM1152.10 577.1h2.8V587.4h-2.8zM1162.10 583.3h2.8V586.0h-2.8zM1169.10 579.2h2.8V586.4h-2.8zM1172.10 585.4h2.8V587.4h-2.8zM1176.10 587.4h2.8V592.2h-2.8zM1196.10 550.3h2.8V553.4h-2.8zM1203.10 548.2h2.8V555.5h-2.8zM1217.10 546.2h2.8V550.3h-2.8zM1223.10 543.1h2.8V555.5h-2.8zM1240.10 519.4h2.8V530.7h-2.8zM1251.10 488.5h2.8V494.0h-2.8zM1254.10 493.2h2.8V498.8h-2.8zM1261.10 475.1h2.8V482.3h-2.8zM1271.10 468.2h2.8V477.5h-2.8zM1274.10 477.1h2.8V495.7h-2.8zM1285.10 482.3h2.8V491.5h-2.8zM1288.10 491.1h2.8V516.3h-2.8zM1298.10 474.6h2.8V479.6h-2.8zM1302.10 479.2h2.8V481.2h-2.8zM1308.10 476.7h2.8V494.0h-2.8zM1312.10 492.6h2.8V495.3h-2.8zM1315.10 494.0h2.8V499.8h-2.8zM1319.10 498.8h2.8V501.9h-2.8zM1322.10 500.8h2.8V504.3h-2.8zM1329.10 486.4h2.8V494.0h-2.8zM1339.10 478.1h2.8V494.6h-2.8zM1346.10 412.9h2.8V424.6h-2.8zM1349.10 424.3h2.8V435.6h-2.8zM1363.10 382.0h2.8V399.6h-2.8zM1370.10 396.1h2.8V427.0h-2.8zM1376.10 411.3h2.8V428.1h-2.8zM1383.10 401.4h2.8V424.6h-2.8z" fill="#f23645"/>
<path d="M1195.4 250.4H1327.3a7 7 0 0 1 7 7V259.9L1401.8 279.1L1334.3 281V283.4a7 7 0 0 1-7 7H1195.4a7 7 0 0 1-7-7V257.4a7 7 0 0 1 7-7z" fill="#4cb3c4" stroke="#2f9fb2" stroke-width="1"/>
<text x="1201.4" y="274.9" font-size="14.5" fill="#eef9fb" stroke="#eef9fb" stroke-width="0.6" textLength="120.2" lengthAdjust="spacingAndGlyphs">Breakout Attempt</text>
<text x="1863.4" y="94.2" font-size="15" fill="#131722" textLength="36.2" lengthAdjust="spacingAndGlyphs">4.000</text>
<text x="1863.4" y="182.9" font-size="15" fill="#131722" textLength="36.2" lengthAdjust="spacingAndGlyphs">3.500</text>
<text x="1863.4" y="271.6" font-size="15" fill="#131722" textLength="36.2" lengthAdjust="spacingAndGlyphs">3.000</text>
<text x="1863.4" y="360.3" font-size="15" fill="#131722" textLength="36.2" lengthAdjust="spacingAndGlyphs">2.500</text>
<text x="1863.4" y="449.0" font-size="15" fill="#131722" textLength="36.2" lengthAdjust="spacingAndGlyphs">2.000</text>
<text x="1863.4" y="537.7" font-size="15" fill="#131722" textLength="36.2" lengthAdjust="spacingAndGlyphs">1.500</text>
<text x="1863.4" y="626.4" font-size="15" fill="#131722" textLength="36.2" lengthAdjust="spacingAndGlyphs">1.000</text>
<text x="1863.4" y="715.1" font-size="15" fill="#131722" textLength="36.2" lengthAdjust="spacingAndGlyphs">0.500</text>
<text x="1863.4" y="803.8" font-size="15" fill="#131722" textLength="36.2" lengthAdjust="spacingAndGlyphs">0.000</text>
<rect x="1853" y="204.3" width="53.8" height="20.4" rx="2" fill="#000"/>
<text x="1863.3" y="219.9" font-size="15" fill="#fff" stroke="#fff" stroke-width="0.55" textLength="36.6" lengthAdjust="spacingAndGlyphs">3.290</text>
<rect x="1853" y="267.3" width="53.8" height="20.7" rx="2" fill="#000"/>
<text x="1863.3" y="283.0" font-size="15" fill="#fff" stroke="#fff" stroke-width="0.55" textLength="36.6" lengthAdjust="spacingAndGlyphs">2.830</text>
<rect x="1853" y="584.3" width="53.8" height="19.7" rx="2" fill="#000"/>
<text x="1863.3" y="599.5" font-size="15" fill="#fff" stroke="#fff" stroke-width="0.55" textLength="36.6" lengthAdjust="spacingAndGlyphs">1.151</text>
<rect x="1853" y="288.8" width="75" height="39.2" rx="2" fill="#089981"/>
<text x="1863.3" y="305.3" font-size="15" fill="#fff" stroke="#fff" stroke-width="0.55" textLength="36.6" lengthAdjust="spacingAndGlyphs">2.814</text>
<text x="1863.3" y="323.3" font-size="15" fill="#d9f2ee" stroke="#d9f2ee" stroke-width="0.25" textLength="56.5" lengthAdjust="spacingAndGlyphs">13:42:19</text>
<rect x="1858" y="38.3" width="69.7" height="32.8" rx="4.5" fill="#fff" stroke="#eceef2" stroke-width="1.6"/>
<text x="1869.5" y="60" font-size="14.5" fill="#131722" textLength="34" lengthAdjust="spacingAndGlyphs">USDT</text>
<text x="83.5" y="836.4" font-size="14.5" text-anchor="middle" fill="#131722">Dec</text>
<text x="188.5" y="836.4" font-size="14.5" text-anchor="middle" fill="#131722" font-weight="bold">2023</text>
<text x="293.5" y="836.4" font-size="14.5" text-anchor="middle" fill="#131722">Feb</text>
<text x="494.5" y="836.4" font-size="14.5" text-anchor="middle" fill="#131722">Apr</text>
<text x="596.5" y="836.4" font-size="14.5" text-anchor="middle" fill="#131722">May</text>
<text x="701.5" y="836.4" font-size="14.5" text-anchor="middle" fill="#131722">Jun</text>
<text x="803.5" y="836.4" font-size="14.5" text-anchor="middle" fill="#131722">Jul</text>
<text x="908.5" y="836.4" font-size="14.5" text-anchor="middle" fill="#131722">Aug</text>
<text x="1014.5" y="836.4" font-size="14.5" text-anchor="middle" fill="#131722">Sep</text>
<text x="1116.5" y="836.4" font-size="14.5" text-anchor="middle" fill="#131722">Oct</text>
<text x="1221.5" y="836.4" font-size="14.5" text-anchor="middle" fill="#131722">Nov</text>
<text x="1323.5" y="836.4" font-size="14.5" text-anchor="middle" fill="#131722">Dec</text>
<text x="1428.5" y="836.4" font-size="14.5" text-anchor="middle" fill="#131722" font-weight="bold">2024</text>
<text x="1534.5" y="836.4" font-size="14.5" text-anchor="middle" fill="#131722">Feb</text>
<text x="1634.5" y="836.4" font-size="14.5" text-anchor="middle" fill="#131722">2</text>
<text x="1737.5" y="836.4" font-size="14.5" text-anchor="middle" fill="#131722">Apr</text>
<text x="1839.5" y="836.4" font-size="14.5" text-anchor="middle" fill="#131722">May</text>
<text x="13.4" y="24.8" font-size="14.7" fill="#131722" textLength="517" lengthAdjust="spacingAndGlyphs">sahilmahadik07 published on TradingView.com, Dec 22, 2023 15:47 UTC+5:30</text>
<text x="23.4" y="58.6" font-size="14.7" fill="#131722" textLength="189.0" lengthAdjust="spacingAndGlyphs">OP / TetherUS, 1D, BINANCE</text>
<text x="222.4" y="58.6" font-size="14.7" fill="#131722" textLength="9.2" lengthAdjust="spacingAndGlyphs">O</text>
<text x="232.8" y="58.6" font-size="14.7" fill="#089981" textLength="34.7" lengthAdjust="spacingAndGlyphs">2.521</text>
<text x="278.7" y="58.6" font-size="14.7" fill="#131722" textLength="8.8" lengthAdjust="spacingAndGlyphs">H</text>
<text x="288.9" y="58.6" font-size="14.7" fill="#089981" textLength="35.1" lengthAdjust="spacingAndGlyphs">2.981</text>
<text x="335" y="58.6" font-size="14.7" fill="#131722" textLength="6.5" lengthAdjust="spacingAndGlyphs">L</text>
<text x="342.4" y="58.6" font-size="14.7" fill="#089981" textLength="35.0" lengthAdjust="spacingAndGlyphs">2.491</text>
<text x="388.1" y="58.6" font-size="14.7" fill="#131722" textLength="8.2" lengthAdjust="spacingAndGlyphs">C</text>
<text x="397.5" y="58.6" font-size="14.7" fill="#089981" textLength="36.0" lengthAdjust="spacingAndGlyphs">2.814</text>
<text x="443.6" y="58.6" font-size="14.7" fill="#089981" textLength="112.8" lengthAdjust="spacingAndGlyphs">+0.293 (+11.62%)</text>
<text x="23.4" y="80" font-size="14.7" fill="#131722" textLength="83.5" lengthAdjust="spacingAndGlyphs">Vol · OP (20)</text>
<text x="116.6" y="80" font-size="14.7" fill="#089981" textLength="55.1" lengthAdjust="spacingAndGlyphs">47.137M</text>
<text x="181.4" y="80" font-size="14.7" fill="#2962ff" textLength="47.6" lengthAdjust="spacingAndGlyphs">41.99M</text>
<text x="23.4" y="100.8" font-size="14.7" fill="#131722" textLength="133.4" lengthAdjust="spacingAndGlyphs">EMA 20/50/100/200</text>
<text x="166.2" y="100.8" font-size="14.7" fill="#ff9800" textLength="36.5" lengthAdjust="spacingAndGlyphs">2.182</text>
<text x="213.4" y="100.8" font-size="14.7" fill="#e8464f" textLength="35.0" lengthAdjust="spacingAndGlyphs">1.927</text>
<text x="258.6" y="100.8" font-size="14.7" fill="#22d8ea" textLength="35.3" lengthAdjust="spacingAndGlyphs">1.741</text>
<text x="305" y="100.8" font-size="14.7" fill="#131722" textLength="35.7" lengthAdjust="spacingAndGlyphs">1.646</text>
<path d="M13.1 865.1H22.6V876.7H17.6V869.4H13.1z M31.6 865.1H37L32.7 876.7H26.9z" fill="#131722"/><circle cx="26.9" cy="867.2" r="2.45" fill="#131722"/>
<text x="42" y="876.6" font-size="15.2" fill="#2a2e39" textLength="87" lengthAdjust="spacingAndGlyphs">TradingView</text>
</svg>
</body></html>
